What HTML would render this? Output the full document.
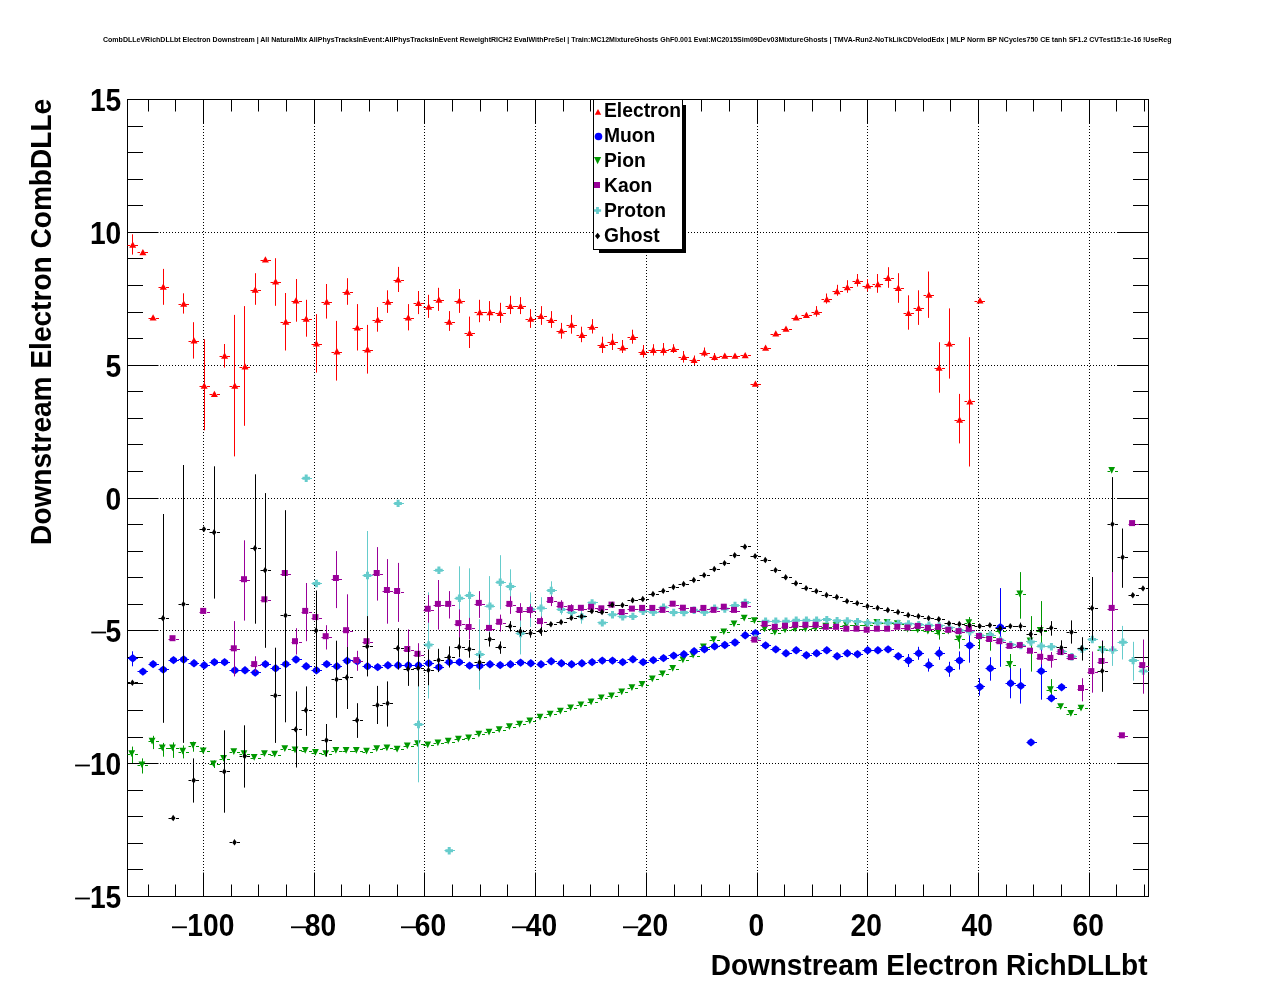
<!DOCTYPE html><html><head><meta charset="utf-8"><style>html,body{margin:0;padding:0;background:#fff;overflow:hidden;width:1276px;height:996px;}svg{display:block;will-change:transform;}text{font-family:"Liberation Sans",sans-serif;font-weight:bold;}</style></head><body>
<svg width="1276" height="996" viewBox="0 0 1276 996">
<rect x="0" y="0" width="1276" height="996" fill="#fff"/>
<text x="103" y="42" font-size="7" textLength="1068.5" lengthAdjust="spacingAndGlyphs">CombDLLeVRichDLLbt Electron Downstream | All NaturalMix AllPhysTracksInEvent:AllPhysTracksInEvent ReweightRICH2 EvalWithPreSel | Train:MC12MixtureGhosts GhF0.001 Eval:MC2015Sim09Dev03MixtureGhosts | TMVA-Run2-NoTkLikCDVelodEdx | MLP Norm BP NCycles750 CE tanh SF1.2 CVTest15:1e-16 !UseReg</text>
<path d="M203.5 99V896.5M314.5 99V896.5M424.5 99V896.5M535.5 99V896.5M646.5 99V896.5M757.5 99V896.5M867.5 99V896.5M978.5 99V896.5M1089.5 99V896.5M127 896.5H1148.5M127 763.5H1148.5M127 630.5H1148.5M127 498.5H1148.5M127 365.5H1148.5M127 232.5H1148.5M127 99.5H1148.5" stroke="#000" stroke-width="1" stroke-dasharray="1 2" fill="none"/>
<path d="M148.5 896.5v-12M148.5 99.5v12M175.5 896.5v-12M175.5 99.5v12M203.5 896.5v-24M203.5 99.5v24M231.5 896.5v-12M231.5 99.5v12M258.5 896.5v-12M258.5 99.5v12M286.5 896.5v-12M286.5 99.5v12M314.5 896.5v-24M314.5 99.5v24M341.5 896.5v-12M341.5 99.5v12M369.5 896.5v-12M369.5 99.5v12M397.5 896.5v-12M397.5 99.5v12M424.5 896.5v-24M424.5 99.5v24M452.5 896.5v-12M452.5 99.5v12M480.5 896.5v-12M480.5 99.5v12M507.5 896.5v-12M507.5 99.5v12M535.5 896.5v-24M535.5 99.5v24M563.5 896.5v-12M563.5 99.5v12M590.5 896.5v-12M590.5 99.5v12M618.5 896.5v-12M618.5 99.5v12M646.5 896.5v-24M646.5 99.5v24M674.5 896.5v-12M674.5 99.5v12M701.5 896.5v-12M701.5 99.5v12M729.5 896.5v-12M729.5 99.5v12M757.5 896.5v-24M757.5 99.5v24M784.5 896.5v-12M784.5 99.5v12M812.5 896.5v-12M812.5 99.5v12M840.5 896.5v-12M840.5 99.5v12M867.5 896.5v-24M867.5 99.5v24M895.5 896.5v-12M895.5 99.5v12M923.5 896.5v-12M923.5 99.5v12M950.5 896.5v-12M950.5 99.5v12M978.5 896.5v-24M978.5 99.5v24M1006.5 896.5v-12M1006.5 99.5v12M1033.5 896.5v-12M1033.5 99.5v12M1061.5 896.5v-12M1061.5 99.5v12M1089.5 896.5v-24M1089.5 99.5v24M1116.5 896.5v-12M1116.5 99.5v12M1144.5 896.5v-12M1144.5 99.5v12M127.5 896.5h31M1148.5 896.5h-31M127.5 869.5h15.5M1148.5 869.5h-15.5M127.5 843.5h15.5M1148.5 843.5h-15.5M127.5 816.5h15.5M1148.5 816.5h-15.5M127.5 790.5h15.5M1148.5 790.5h-15.5M127.5 763.5h31M1148.5 763.5h-31M127.5 737.5h15.5M1148.5 737.5h-15.5M127.5 710.5h15.5M1148.5 710.5h-15.5M127.5 683.5h15.5M1148.5 683.5h-15.5M127.5 657.5h15.5M1148.5 657.5h-15.5M127.5 630.5h31M1148.5 630.5h-31M127.5 604.5h15.5M1148.5 604.5h-15.5M127.5 577.5h15.5M1148.5 577.5h-15.5M127.5 551.5h15.5M1148.5 551.5h-15.5M127.5 524.5h15.5M1148.5 524.5h-15.5M127.5 498.5h31M1148.5 498.5h-31M127.5 471.5h15.5M1148.5 471.5h-15.5M127.5 444.5h15.5M1148.5 444.5h-15.5M127.5 418.5h15.5M1148.5 418.5h-15.5M127.5 391.5h15.5M1148.5 391.5h-15.5M127.5 365.5h31M1148.5 365.5h-31M127.5 338.5h15.5M1148.5 338.5h-15.5M127.5 312.5h15.5M1148.5 312.5h-15.5M127.5 285.5h15.5M1148.5 285.5h-15.5M127.5 258.5h15.5M1148.5 258.5h-15.5M127.5 232.5h31M1148.5 232.5h-31M127.5 205.5h15.5M1148.5 205.5h-15.5M127.5 179.5h15.5M1148.5 179.5h-15.5M127.5 152.5h15.5M1148.5 152.5h-15.5M127.5 126.5h15.5M1148.5 126.5h-15.5M127.5 99.5h31M1148.5 99.5h-31" stroke="#000" stroke-width="1" fill="none"/>
<rect x="127.5" y="99.5" width="1021.0" height="797.0" stroke="#000" stroke-width="1" fill="none"/>
<rect x="172.0" y="926.4" width="14.9" height="1.8" fill="#000"/>
<text transform="translate(210.9,936.2) scale(0.925,1)" font-size="30.5" text-anchor="middle">100</text>
<rect x="291.0" y="926.4" width="15.3" height="1.8" fill="#000"/>
<text transform="translate(320.4,936.2) scale(0.925,1)" font-size="30.5" text-anchor="middle">80</text>
<rect x="401.0" y="926.4" width="15.3" height="1.8" fill="#000"/>
<text transform="translate(430.4,936.2) scale(0.925,1)" font-size="30.5" text-anchor="middle">60</text>
<rect x="512.0" y="926.4" width="15.3" height="1.8" fill="#000"/>
<text transform="translate(541.5,936.2) scale(0.925,1)" font-size="30.5" text-anchor="middle">40</text>
<rect x="623.0" y="926.4" width="15.3" height="1.8" fill="#000"/>
<text transform="translate(652.5,936.2) scale(0.925,1)" font-size="30.5" text-anchor="middle">20</text>
<text transform="translate(756.3,936.2) scale(0.925,1)" font-size="30.5" text-anchor="middle">0</text>
<text transform="translate(866.3,936.2) scale(0.925,1)" font-size="30.5" text-anchor="middle">20</text>
<text transform="translate(977.3,936.2) scale(0.925,1)" font-size="30.5" text-anchor="middle">40</text>
<text transform="translate(1088.3,936.2) scale(0.925,1)" font-size="30.5" text-anchor="middle">60</text>
<text transform="translate(121.3,907.7) scale(0.925,1)" font-size="30.5" text-anchor="end">15</text>
<rect x="75.1" y="897.6" width="14.8" height="1.8" fill="#000"/>
<text transform="translate(121.3,774.7) scale(0.925,1)" font-size="30.5" text-anchor="end">10</text>
<rect x="75.1" y="764.6" width="14.8" height="1.8" fill="#000"/>
<text transform="translate(121.3,641.7) scale(0.925,1)" font-size="30.5" text-anchor="end">5</text>
<rect x="91.3" y="631.6" width="14.8" height="1.8" fill="#000"/>
<text transform="translate(121.3,509.7) scale(0.925,1)" font-size="30.5" text-anchor="end">0</text>
<text transform="translate(121.3,376.7) scale(0.925,1)" font-size="30.5" text-anchor="end">5</text>
<text transform="translate(121.3,243.7) scale(0.925,1)" font-size="30.5" text-anchor="end">10</text>
<text transform="translate(121.3,110.7) scale(0.925,1)" font-size="30.5" text-anchor="end">15</text>
<text transform="translate(1147.5,974.6) scale(0.933,1)" font-size="30" text-anchor="end">Downstream Electron RichDLLbt</text>
<text transform="translate(51.2,98.8) rotate(-90) scale(0.936,1)" font-size="30" text-anchor="end">Downstream Electron CombDLLe</text>
<path d="M127.5 754.5H130.0M135.0 754.5H138.0M132.5 746.6V763.0M137.5 765.5H140.0M145.0 765.5H148.0M142.5 758.4V773.5M148.5 741.5H151.0M156.0 741.5H159.0M153.5 735.8V749.1M158.5 748.5H161.0M166.0 748.5H169.0M163.5 742.9V756.7M168.5 748.5H171.0M176.0 748.5H179.0M173.5 742.4V757.9M178.5 752.5H181.0M186.0 752.5H189.0M183.5 745.4V758.4M188.5 746.5H191.0M196.0 746.5H199.0M193.5 741.6V751.7M199.5 751.5H202.0M207.0 751.5H210.0M209.5 764.5H212.0M217.0 764.5H220.0M214.5 760.4V768.0M219.5 759.5H222.0M227.0 759.5H230.0M229.5 752.5H232.0M237.0 752.5H240.0M239.5 754.5H242.0M247.0 754.5H250.0M250.5 758.5H253.0M258.0 758.5H261.0M260.5 754.5H263.0M268.0 754.5H271.0M270.5 755.5H273.0M278.0 755.5H281.0M280.5 749.5H283.0M288.0 749.5H291.0M291.5 750.5H294.0M299.0 750.5H302.0M301.5 751.5H304.0M309.0 751.5H312.0M311.5 753.5H314.0M319.0 753.5H322.0M321.5 754.5H324.0M329.0 754.5H332.0M331.5 751.5H334.0M339.0 751.5H342.0M342.5 751.5H345.0M350.0 751.5H353.0M352.5 751.5H355.0M360.0 751.5H363.0M362.5 752.5H365.0M370.0 752.5H373.0M372.5 749.5H375.0M380.0 749.5H383.0M382.5 748.5H385.0M390.0 748.5H393.0M393.5 749.5H396.0M401.0 749.5H404.0M403.5 746.5H406.0M411.0 746.5H414.0M413.5 744.5H416.0M421.0 744.5H424.0M423.5 745.5H426.0M431.0 745.5H434.0M433.5 743.5H436.0M441.0 743.5H444.0M444.5 742.5H447.0M452.0 742.5H455.0M454.5 739.5H457.0M462.0 739.5H465.0M464.5 738.5H467.0M472.0 738.5H475.0M474.5 734.5H477.0M482.0 734.5H485.0M484.5 732.5H487.0M492.0 732.5H495.0M495.5 730.5H498.0M503.0 730.5H506.0M505.5 727.5H508.0M513.0 727.5H516.0M515.5 724.5H518.0M523.0 724.5H526.0M525.5 721.5H528.0M533.0 721.5H536.0M536.5 717.5H539.0M544.0 717.5H547.0M546.5 714.5H549.0M554.0 714.5H557.0M556.5 711.5H559.0M564.0 711.5H567.0M566.5 708.5H569.0M574.0 708.5H577.0M576.5 705.5H579.0M584.0 705.5H587.0M587.5 702.5H590.0M595.0 702.5H598.0M597.5 698.5H600.0M605.0 698.5H608.0M607.5 696.5H610.0M615.0 696.5H618.0M617.5 692.5H620.0M625.0 692.5H628.0M627.5 688.5H630.0M635.0 688.5H638.0M638.5 685.5H641.0M646.0 685.5H649.0M648.5 679.5H651.0M656.0 679.5H659.0M658.5 674.5H661.0M666.0 674.5H669.0M668.5 669.5H671.0M676.0 669.5H679.0M678.5 660.5H681.0M686.0 660.5H689.0M689.5 656.5H692.0M697.0 656.5H700.0M699.5 647.5H702.0M707.0 647.5H710.0M709.5 640.5H712.0M717.0 640.5H720.0M719.5 632.5H722.0M727.0 632.5H730.0M729.5 624.5H732.0M737.0 624.5H740.0M740.5 618.5H743.0M748.0 618.5H751.0M750.5 621.5H753.0M758.0 621.5H761.0M760.5 629.5H763.0M768.0 629.5H771.0M770.5 633.5H773.0M778.0 633.5H781.0M781.5 630.5H784.0M789.0 630.5H792.0M791.5 629.5H794.0M799.0 629.5H802.0M801.5 629.5H804.0M809.0 629.5H812.0M811.5 628.5H814.0M819.0 628.5H822.0M821.5 627.5H824.0M829.0 627.5H832.0M832.5 626.5H835.0M840.0 626.5H843.0M842.5 625.5H845.0M850.0 625.5H853.0M852.5 625.5H855.0M860.0 625.5H863.0M862.5 625.5H865.0M870.0 625.5H873.0M872.5 623.5H875.0M880.0 623.5H883.0M883.5 623.5H886.0M891.0 623.5H894.0M893.5 624.5H896.0M901.0 624.5H904.0M903.5 630.5H906.0M911.0 630.5H914.0M913.5 630.5H916.0M921.0 630.5H924.0M923.5 631.5H926.0M931.0 631.5H934.0M934.5 633.5H937.0M942.0 633.5H945.0M939.5 626.6V639.6M944.5 631.5H947.0M952.0 631.5H955.0M954.5 639.5H957.0M962.0 639.5H965.0M959.5 633.7V648.7M964.5 623.5H967.0M972.0 623.5H975.0M969.5 617.0V629.8M974.5 637.5H977.0M982.0 637.5H985.0M979.5 633.1V649.4M985.5 637.5H988.0M993.0 637.5H996.0M990.5 633.1V650.7M995.5 631.5H998.0M1003.0 631.5H1006.0M1000.5 626.6V635.7M1005.5 665.5H1008.0M1013.0 665.5H1016.0M1010.5 654.0V673.5M1015.5 594.5H1018.0M1023.0 594.5H1026.0M1020.5 572.1V618.7M1026.5 641.5H1029.0M1034.0 641.5H1037.0M1031.5 616.1V671.6M1036.5 631.5H1039.0M1044.0 631.5H1047.0M1041.5 601.1V659.2M1046.5 690.5H1049.0M1054.0 690.5H1057.0M1051.5 679.1V700.5M1056.5 707.5H1059.0M1064.0 707.5H1067.0M1066.5 714.5H1069.0M1074.0 714.5H1077.0M1077.5 708.5H1080.0M1085.0 708.5H1088.0M1097.5 650.5H1100.0M1105.0 650.5H1108.0M1107.5 471.5H1110.0M1115.0 471.5H1118.0" stroke="#009900" stroke-width="1" fill="none"/>
<path d="M128.3 750.3H135.1L131.7 757.0Z" fill="#009900"/>
<path d="M138.5 761.4H145.3L141.9 768.1Z" fill="#009900"/>
<path d="M148.7 737.8H155.5L152.1 744.5Z" fill="#009900"/>
<path d="M158.9 744.5H165.7L162.3 751.2Z" fill="#009900"/>
<path d="M169.1 744.5H175.9L172.5 751.2Z" fill="#009900"/>
<path d="M179.3 747.8H186.1L182.7 754.5Z" fill="#009900"/>
<path d="M189.6 742.0H196.4L193.0 748.7Z" fill="#009900"/>
<path d="M199.8 747.6H206.6L203.2 754.3Z" fill="#009900"/>
<path d="M210.0 760.4H216.8L213.4 767.1Z" fill="#009900"/>
<path d="M220.2 755.1H227.0L223.6 761.8Z" fill="#009900"/>
<path d="M230.4 748.3H237.2L233.8 755.0Z" fill="#009900"/>
<path d="M240.6 750.3H247.4L244.0 757.0Z" fill="#009900"/>
<path d="M250.8 754.1H257.6L254.2 760.8Z" fill="#009900"/>
<path d="M261.0 750.3H267.8L264.4 757.0Z" fill="#009900"/>
<path d="M271.2 750.8H278.0L274.6 757.5Z" fill="#009900"/>
<path d="M281.4 745.3H288.2L284.8 752.0Z" fill="#009900"/>
<path d="M291.6 746.5H298.4L295.0 753.2Z" fill="#009900"/>
<path d="M301.8 747.1H308.6L305.2 753.8Z" fill="#009900"/>
<path d="M312.0 749.1H318.8L315.4 755.8Z" fill="#009900"/>
<path d="M322.3 750.3H329.1L325.7 757.0Z" fill="#009900"/>
<path d="M332.5 747.1H339.3L335.9 753.8Z" fill="#009900"/>
<path d="M342.7 747.1H349.5L346.1 753.8Z" fill="#009900"/>
<path d="M352.9 747.1H359.7L356.3 753.8Z" fill="#009900"/>
<path d="M363.1 747.8H369.9L366.5 754.5Z" fill="#009900"/>
<path d="M373.3 745.3H380.1L376.7 752.0Z" fill="#009900"/>
<path d="M383.5 744.5H390.3L386.9 751.2Z" fill="#009900"/>
<path d="M393.7 745.8H400.5L397.1 752.5Z" fill="#009900"/>
<path d="M403.9 742.5H410.7L407.3 749.2Z" fill="#009900"/>
<path d="M414.1 740.3H420.9L417.5 747.0Z" fill="#009900"/>
<path d="M424.3 741.5H431.1L427.7 748.2Z" fill="#009900"/>
<path d="M434.5 739.6H441.3L437.9 746.3Z" fill="#009900"/>
<path d="M444.8 737.8H451.6L448.2 744.5Z" fill="#009900"/>
<path d="M455.0 735.8H461.8L458.4 742.5Z" fill="#009900"/>
<path d="M465.2 734.5H472.0L468.6 741.2Z" fill="#009900"/>
<path d="M475.4 730.8H482.2L478.8 737.5Z" fill="#009900"/>
<path d="M485.6 728.8H492.4L489.0 735.5Z" fill="#009900"/>
<path d="M495.8 726.3H502.6L499.2 733.0Z" fill="#009900"/>
<path d="M506.0 723.2H512.8L509.4 729.9Z" fill="#009900"/>
<path d="M516.2 720.7H523.0L519.6 727.4Z" fill="#009900"/>
<path d="M526.4 717.5H533.2L529.8 724.2Z" fill="#009900"/>
<path d="M536.6 713.7H543.4L540.0 720.4Z" fill="#009900"/>
<path d="M546.8 710.7H553.6L550.2 717.4Z" fill="#009900"/>
<path d="M557.0 707.7H563.8L560.4 714.4Z" fill="#009900"/>
<path d="M567.2 704.4H574.0L570.6 711.1Z" fill="#009900"/>
<path d="M577.5 701.4H584.3L580.9 708.1Z" fill="#009900"/>
<path d="M587.7 698.6H594.5L591.1 705.3Z" fill="#009900"/>
<path d="M597.9 694.4H604.7L601.3 701.1Z" fill="#009900"/>
<path d="M608.1 692.6H614.9L611.5 699.3Z" fill="#009900"/>
<path d="M618.3 688.6H625.1L621.7 695.3Z" fill="#009900"/>
<path d="M628.5 684.3H635.3L631.9 691.0Z" fill="#009900"/>
<path d="M638.7 681.1H645.5L642.1 687.8Z" fill="#009900"/>
<path d="M648.9 675.6H655.7L652.3 682.3Z" fill="#009900"/>
<path d="M659.1 670.5H665.9L662.5 677.2Z" fill="#009900"/>
<path d="M669.3 665.0H676.1L672.7 671.7Z" fill="#009900"/>
<path d="M679.5 656.5H686.3L682.9 663.2Z" fill="#009900"/>
<path d="M689.7 651.9H696.5L693.1 658.6Z" fill="#009900"/>
<path d="M700.0 643.5H706.8L703.4 650.2Z" fill="#009900"/>
<path d="M710.2 636.3H717.0L713.6 643.0Z" fill="#009900"/>
<path d="M720.4 628.4H727.2L723.8 635.1Z" fill="#009900"/>
<path d="M730.6 620.6H737.4L734.0 627.3Z" fill="#009900"/>
<path d="M740.8 614.7H747.6L744.2 621.4Z" fill="#009900"/>
<path d="M751.0 617.2H757.8L754.4 623.9Z" fill="#009900"/>
<path d="M761.2 625.6H768.0L764.6 632.3Z" fill="#009900"/>
<path d="M771.4 628.9H778.2L774.8 635.6Z" fill="#009900"/>
<path d="M781.6 626.6H788.4L785.0 633.3Z" fill="#009900"/>
<path d="M791.8 625.6H798.6L795.2 632.3Z" fill="#009900"/>
<path d="M802.0 625.6H808.8L805.4 632.3Z" fill="#009900"/>
<path d="M812.2 624.7H819.0L815.6 631.4Z" fill="#009900"/>
<path d="M822.4 622.8H829.2L825.8 629.5Z" fill="#009900"/>
<path d="M832.7 621.9H839.5L836.1 628.6Z" fill="#009900"/>
<path d="M842.9 621.4H849.7L846.3 628.1Z" fill="#009900"/>
<path d="M853.1 620.9H859.9L856.5 627.6Z" fill="#009900"/>
<path d="M863.3 621.5H870.1L866.7 628.2Z" fill="#009900"/>
<path d="M873.5 618.9H880.3L876.9 625.6Z" fill="#009900"/>
<path d="M883.7 618.9H890.5L887.1 625.6Z" fill="#009900"/>
<path d="M893.9 620.2H900.7L897.3 626.9Z" fill="#009900"/>
<path d="M904.1 625.8H910.9L907.5 632.5Z" fill="#009900"/>
<path d="M914.3 626.5H921.1L917.7 633.2Z" fill="#009900"/>
<path d="M924.5 627.8H931.3L927.9 634.5Z" fill="#009900"/>
<path d="M934.7 629.1H941.5L938.1 635.8Z" fill="#009900"/>
<path d="M944.9 627.8H951.7L948.3 634.5Z" fill="#009900"/>
<path d="M955.2 635.6H962.0L958.6 642.3Z" fill="#009900"/>
<path d="M965.4 619.3H972.2L968.8 626.0Z" fill="#009900"/>
<path d="M975.6 633.6H982.4L979.0 640.3Z" fill="#009900"/>
<path d="M985.8 633.0H992.6L989.2 639.7Z" fill="#009900"/>
<path d="M996.0 627.8H1002.8L999.4 634.5Z" fill="#009900"/>
<path d="M1006.2 661.1H1013.0L1009.6 667.8Z" fill="#009900"/>
<path d="M1016.4 590.6H1023.2L1019.8 597.3Z" fill="#009900"/>
<path d="M1026.6 637.6H1033.4L1030.0 644.3Z" fill="#009900"/>
<path d="M1036.8 626.9H1043.6L1040.2 633.6Z" fill="#009900"/>
<path d="M1047.0 686.2H1053.8L1050.4 692.9Z" fill="#009900"/>
<path d="M1057.2 703.2H1064.0L1060.6 709.9Z" fill="#009900"/>
<path d="M1067.4 710.0H1074.2L1070.8 716.7Z" fill="#009900"/>
<path d="M1077.6 704.7H1084.4L1081.0 711.4Z" fill="#009900"/>
<path d="M1098.1 646.2H1104.9L1101.5 652.9Z" fill="#009900"/>
<path d="M1108.3 467.0H1115.1L1111.7 473.7Z" fill="#009900"/>
<path d="M127.5 658.5H130.0M135.0 658.5H138.0M132.5 651.3V666.3M137.5 671.5H140.0M145.0 671.5H148.0M148.5 664.5H151.0M156.0 664.5H159.0M158.5 669.5H161.0M166.0 669.5H169.0M168.5 660.5H171.0M176.0 660.5H179.0M178.5 659.5H181.0M186.0 659.5H189.0M188.5 663.5H191.0M196.0 663.5H199.0M199.5 665.5H202.0M207.0 665.5H210.0M209.5 662.5H212.0M217.0 662.5H220.0M219.5 662.5H222.0M227.0 662.5H230.0M229.5 670.5H232.0M237.0 670.5H240.0M239.5 670.5H242.0M247.0 670.5H250.0M250.5 672.5H253.0M258.0 672.5H261.0M260.5 664.5H263.0M268.0 664.5H271.0M270.5 668.5H273.0M278.0 668.5H281.0M280.5 664.5H283.0M288.0 664.5H291.0M291.5 659.5H294.0M299.0 659.5H302.0M301.5 666.5H304.0M309.0 666.5H312.0M311.5 670.5H314.0M319.0 670.5H322.0M321.5 664.5H324.0M329.0 664.5H332.0M331.5 666.5H334.0M339.0 666.5H342.0M342.5 660.5H345.0M350.0 660.5H353.0M352.5 661.5H355.0M360.0 661.5H363.0M362.5 666.5H365.0M370.0 666.5H373.0M372.5 667.5H375.0M380.0 667.5H383.0M382.5 665.5H385.0M390.0 665.5H393.0M393.5 665.5H396.0M401.0 665.5H404.0M403.5 665.5H406.0M411.0 665.5H414.0M413.5 665.5H416.0M421.0 665.5H424.0M423.5 663.5H426.0M431.0 663.5H434.0M433.5 667.5H436.0M441.0 667.5H444.0M444.5 662.5H447.0M452.0 662.5H455.0M454.5 662.5H457.0M462.0 662.5H465.0M464.5 665.5H467.0M472.0 665.5H475.0M474.5 665.5H477.0M482.0 665.5H485.0M484.5 664.5H487.0M492.0 664.5H495.0M495.5 665.5H498.0M503.0 665.5H506.0M505.5 664.5H508.0M513.0 664.5H516.0M515.5 662.5H518.0M523.0 662.5H526.0M525.5 663.5H528.0M533.0 663.5H536.0M536.5 664.5H539.0M544.0 664.5H547.0M546.5 661.5H549.0M554.0 661.5H557.0M556.5 663.5H559.0M564.0 663.5H567.0M566.5 664.5H569.0M574.0 664.5H577.0M576.5 663.5H579.0M584.0 663.5H587.0M587.5 662.5H590.0M595.0 662.5H598.0M597.5 660.5H600.0M605.0 660.5H608.0M607.5 660.5H610.0M615.0 660.5H618.0M617.5 662.5H620.0M625.0 662.5H628.0M627.5 659.5H630.0M635.0 659.5H638.0M638.5 662.5H641.0M646.0 662.5H649.0M648.5 660.5H651.0M656.0 660.5H659.0M658.5 658.5H661.0M666.0 658.5H669.0M668.5 655.5H671.0M676.0 655.5H679.0M678.5 654.5H681.0M686.0 654.5H689.0M689.5 651.5H692.0M697.0 651.5H700.0M699.5 649.5H702.0M707.0 649.5H710.0M709.5 646.5H712.0M717.0 646.5H720.0M719.5 645.5H722.0M727.0 645.5H730.0M729.5 642.5H732.0M737.0 642.5H740.0M740.5 635.5H743.0M748.0 635.5H751.0M750.5 633.5H753.0M758.0 633.5H761.0M760.5 645.5H763.0M768.0 645.5H771.0M770.5 649.5H773.0M778.0 649.5H781.0M781.5 653.5H784.0M789.0 653.5H792.0M791.5 650.5H794.0M799.0 650.5H802.0M801.5 655.5H804.0M809.0 655.5H812.0M811.5 653.5H814.0M819.0 653.5H822.0M821.5 650.5H824.0M829.0 650.5H832.0M832.5 656.5H835.0M840.0 656.5H843.0M842.5 653.5H845.0M850.0 653.5H853.0M852.5 654.5H855.0M860.0 654.5H863.0M862.5 650.5H865.0M870.0 650.5H873.0M872.5 650.5H875.0M880.0 650.5H883.0M883.5 649.5H886.0M891.0 649.5H894.0M893.5 656.5H896.0M901.0 656.5H904.0M903.5 660.5H906.0M911.0 660.5H914.0M908.5 654.0V667.0M913.5 653.5H916.0M921.0 653.5H924.0M918.5 646.8V659.8M923.5 665.5H926.0M931.0 665.5H934.0M928.5 658.5V671.6M934.5 653.5H937.0M942.0 653.5H945.0M939.5 646.8V659.8M944.5 669.5H947.0M952.0 669.5H955.0M949.5 661.8V676.8M954.5 660.5H957.0M962.0 660.5H965.0M959.5 651.4V669.6M964.5 645.5H967.0M972.0 645.5H975.0M969.5 627.9V662.7M974.5 686.5H977.0M982.0 686.5H985.0M979.5 678.1V695.7M985.5 668.5H988.0M993.0 668.5H996.0M990.5 657.2V680.7M995.5 627.5H998.0M1003.0 627.5H1006.0M1000.5 588.1V666.8M1005.5 683.5H1008.0M1013.0 683.5H1016.0M1010.5 668.3V698.3M1015.5 685.5H1018.0M1023.0 685.5H1026.0M1020.5 668.3V703.6M1026.5 742.5H1029.0M1034.0 742.5H1037.0M1036.5 671.5H1039.0M1044.0 671.5H1047.0M1041.5 644.8V699.7M1046.5 698.5H1049.0M1054.0 698.5H1057.0M1056.5 687.5H1059.0M1064.0 687.5H1067.0" stroke="#0000ff" stroke-width="1" fill="none"/>
<path d="M132.7 654.1L136.3 656.9V659.7L132.7 662.5L129.1 659.7V656.9Z" fill="#0000ff"/>
<path d="M142.9 667.4L146.5 670.2V673.0L142.9 675.8L139.3 673.0V670.2Z" fill="#0000ff"/>
<path d="M153.1 659.9L156.7 662.7V665.5L153.1 668.3L149.5 665.5V662.7Z" fill="#0000ff"/>
<path d="M163.3 665.4L166.9 668.2V671.0L163.3 673.8L159.7 671.0V668.2Z" fill="#0000ff"/>
<path d="M173.5 655.9L177.1 658.7V661.5L173.5 664.3L169.9 661.5V658.7Z" fill="#0000ff"/>
<path d="M183.7 655.3L187.3 658.1V660.9L183.7 663.7L180.1 660.9V658.1Z" fill="#0000ff"/>
<path d="M194.0 659.1L197.6 661.9V664.7L194.0 667.5L190.4 664.7V661.9Z" fill="#0000ff"/>
<path d="M204.2 661.1L207.8 663.9V666.7L204.2 669.5L200.6 666.7V663.9Z" fill="#0000ff"/>
<path d="M214.4 657.9L218.0 660.7V663.5L214.4 666.3L210.8 663.5V660.7Z" fill="#0000ff"/>
<path d="M224.6 657.9L228.2 660.7V663.5L224.6 666.3L221.0 663.5V660.7Z" fill="#0000ff"/>
<path d="M234.8 666.1L238.4 668.9V671.7L234.8 674.5L231.2 671.7V668.9Z" fill="#0000ff"/>
<path d="M245.0 666.1L248.6 668.9V671.7L245.0 674.5L241.4 671.7V668.9Z" fill="#0000ff"/>
<path d="M255.2 668.4L258.8 671.2V674.0L255.2 676.8L251.6 674.0V671.2Z" fill="#0000ff"/>
<path d="M265.4 659.9L269.0 662.7V665.5L265.4 668.3L261.8 665.5V662.7Z" fill="#0000ff"/>
<path d="M275.6 664.1L279.2 666.9V669.7L275.6 672.5L272.0 669.7V666.9Z" fill="#0000ff"/>
<path d="M285.8 659.9L289.4 662.7V665.5L285.8 668.3L282.2 665.5V662.7Z" fill="#0000ff"/>
<path d="M296.0 655.3L299.6 658.1V660.9L296.0 663.7L292.4 660.9V658.1Z" fill="#0000ff"/>
<path d="M306.2 662.1L309.8 664.9V667.7L306.2 670.5L302.6 667.7V664.9Z" fill="#0000ff"/>
<path d="M316.4 666.1L320.0 668.9V671.7L316.4 674.5L312.8 671.7V668.9Z" fill="#0000ff"/>
<path d="M326.7 659.9L330.3 662.7V665.5L326.7 668.3L323.1 665.5V662.7Z" fill="#0000ff"/>
<path d="M336.9 662.1L340.5 664.9V667.7L336.9 670.5L333.3 667.7V664.9Z" fill="#0000ff"/>
<path d="M347.1 656.6L350.7 659.4V662.2L347.1 665.0L343.5 662.2V659.4Z" fill="#0000ff"/>
<path d="M357.3 657.1L360.9 659.9V662.7L357.3 665.5L353.7 662.7V659.9Z" fill="#0000ff"/>
<path d="M367.5 662.1L371.1 664.9V667.7L367.5 670.5L363.9 667.7V664.9Z" fill="#0000ff"/>
<path d="M377.7 662.9L381.3 665.7V668.5L377.7 671.3L374.1 668.5V665.7Z" fill="#0000ff"/>
<path d="M387.9 661.1L391.5 663.9V666.7L387.9 669.5L384.3 666.7V663.9Z" fill="#0000ff"/>
<path d="M398.1 661.1L401.7 663.9V666.7L398.1 669.5L394.5 666.7V663.9Z" fill="#0000ff"/>
<path d="M408.3 661.1L411.9 663.9V666.7L408.3 669.5L404.7 666.7V663.9Z" fill="#0000ff"/>
<path d="M418.5 661.1L422.1 663.9V666.7L418.5 669.5L414.9 666.7V663.9Z" fill="#0000ff"/>
<path d="M428.7 659.1L432.3 661.9V664.7L428.7 667.5L425.1 664.7V661.9Z" fill="#0000ff"/>
<path d="M438.9 662.9L442.5 665.7V668.5L438.9 671.3L435.3 668.5V665.7Z" fill="#0000ff"/>
<path d="M449.2 657.9L452.8 660.7V663.5L449.2 666.3L445.6 663.5V660.7Z" fill="#0000ff"/>
<path d="M459.4 657.9L463.0 660.7V663.5L459.4 666.3L455.8 663.5V660.7Z" fill="#0000ff"/>
<path d="M469.6 661.4L473.2 664.2V667.0L469.6 669.8L466.0 667.0V664.2Z" fill="#0000ff"/>
<path d="M479.8 661.7L483.4 664.5V667.3L479.8 670.1L476.2 667.3V664.5Z" fill="#0000ff"/>
<path d="M490.0 660.1L493.6 662.9V665.7L490.0 668.5L486.4 665.7V662.9Z" fill="#0000ff"/>
<path d="M500.2 660.9L503.8 663.7V666.5L500.2 669.3L496.6 666.5V663.7Z" fill="#0000ff"/>
<path d="M510.4 660.1L514.0 662.9V665.7L510.4 668.5L506.8 665.7V662.9Z" fill="#0000ff"/>
<path d="M520.6 658.4L524.2 661.2V664.0L520.6 666.8L517.0 664.0V661.2Z" fill="#0000ff"/>
<path d="M530.8 659.1L534.4 661.9V664.7L530.8 667.5L527.2 664.7V661.9Z" fill="#0000ff"/>
<path d="M541.0 660.1L544.6 662.9V665.7L541.0 668.5L537.4 665.7V662.9Z" fill="#0000ff"/>
<path d="M551.2 657.1L554.8 659.9V662.7L551.2 665.5L547.6 662.7V659.9Z" fill="#0000ff"/>
<path d="M561.4 659.1L565.0 661.9V664.7L561.4 667.5L557.8 664.7V661.9Z" fill="#0000ff"/>
<path d="M571.6 660.1L575.2 662.9V665.7L571.6 668.5L568.0 665.7V662.9Z" fill="#0000ff"/>
<path d="M581.9 659.1L585.5 661.9V664.7L581.9 667.5L578.3 664.7V661.9Z" fill="#0000ff"/>
<path d="M592.1 657.9L595.7 660.7V663.5L592.1 666.3L588.5 663.5V660.7Z" fill="#0000ff"/>
<path d="M602.3 656.4L605.9 659.2V662.0L602.3 664.8L598.7 662.0V659.2Z" fill="#0000ff"/>
<path d="M612.5 656.4L616.1 659.2V662.0L612.5 664.8L608.9 662.0V659.2Z" fill="#0000ff"/>
<path d="M622.7 657.9L626.3 660.7V663.5L622.7 666.3L619.1 663.5V660.7Z" fill="#0000ff"/>
<path d="M632.9 655.1L636.5 657.9V660.7L632.9 663.5L629.3 660.7V657.9Z" fill="#0000ff"/>
<path d="M643.1 657.9L646.7 660.7V663.5L643.1 666.3L639.5 663.5V660.7Z" fill="#0000ff"/>
<path d="M653.3 655.9L656.9 658.7V661.5L653.3 664.3L649.7 661.5V658.7Z" fill="#0000ff"/>
<path d="M663.5 653.9L667.1 656.7V659.5L663.5 662.3L659.9 659.5V656.7Z" fill="#0000ff"/>
<path d="M673.7 651.4L677.3 654.2V657.0L673.7 659.8L670.1 657.0V654.2Z" fill="#0000ff"/>
<path d="M683.9 650.1L687.5 652.9V655.7L683.9 658.5L680.3 655.7V652.9Z" fill="#0000ff"/>
<path d="M694.1 647.1L697.7 649.9V652.7L694.1 655.5L690.5 652.7V649.9Z" fill="#0000ff"/>
<path d="M704.4 645.1L708.0 647.9V650.7L704.4 653.5L700.8 650.7V647.9Z" fill="#0000ff"/>
<path d="M714.6 642.1L718.2 644.9V647.7L714.6 650.5L711.0 647.7V644.9Z" fill="#0000ff"/>
<path d="M724.8 640.8L728.4 643.6V646.4L724.8 649.2L721.2 646.4V643.6Z" fill="#0000ff"/>
<path d="M735.0 638.3L738.6 641.1V643.9L735.0 646.7L731.4 643.9V641.1Z" fill="#0000ff"/>
<path d="M745.2 631.1L748.8 633.9V636.7L745.2 639.5L741.6 636.7V633.9Z" fill="#0000ff"/>
<path d="M755.4 628.9L759.0 631.7V634.5L755.4 637.3L751.8 634.5V631.7Z" fill="#0000ff"/>
<path d="M765.6 641.2L769.2 644.0V646.8L765.6 649.6L762.0 646.8V644.0Z" fill="#0000ff"/>
<path d="M775.8 645.2L779.4 648.0V650.8L775.8 653.6L772.2 650.8V648.0Z" fill="#0000ff"/>
<path d="M786.0 649.1L789.6 651.9V654.7L786.0 657.5L782.4 654.7V651.9Z" fill="#0000ff"/>
<path d="M796.2 646.1L799.8 648.9V651.7L796.2 654.5L792.6 651.7V648.9Z" fill="#0000ff"/>
<path d="M806.4 651.0L810.0 653.8V656.6L806.4 659.4L802.8 656.6V653.8Z" fill="#0000ff"/>
<path d="M816.6 649.1L820.2 651.9V654.7L816.6 657.5L813.0 654.7V651.9Z" fill="#0000ff"/>
<path d="M826.8 646.1L830.4 648.9V651.7L826.8 654.5L823.2 651.7V648.9Z" fill="#0000ff"/>
<path d="M837.1 652.0L840.7 654.8V657.6L837.1 660.4L833.5 657.6V654.8Z" fill="#0000ff"/>
<path d="M847.3 649.1L850.9 651.9V654.7L847.3 657.5L843.7 654.7V651.9Z" fill="#0000ff"/>
<path d="M857.5 650.0L861.1 652.8V655.6L857.5 658.4L853.9 655.6V652.8Z" fill="#0000ff"/>
<path d="M867.7 646.1L871.3 648.9V651.7L867.7 654.5L864.1 651.7V648.9Z" fill="#0000ff"/>
<path d="M877.9 646.1L881.5 648.9V651.7L877.9 654.5L874.3 651.7V648.9Z" fill="#0000ff"/>
<path d="M888.1 645.2L891.7 648.0V650.8L888.1 653.6L884.5 650.8V648.0Z" fill="#0000ff"/>
<path d="M898.3 652.0L901.9 654.8V657.6L898.3 660.4L894.7 657.6V654.8Z" fill="#0000ff"/>
<path d="M908.5 656.3L912.1 659.1V661.9L908.5 664.7L904.9 661.9V659.1Z" fill="#0000ff"/>
<path d="M918.7 649.1L922.3 651.9V654.7L918.7 657.5L915.1 654.7V651.9Z" fill="#0000ff"/>
<path d="M928.9 660.9L932.5 663.7V666.5L928.9 669.3L925.3 666.5V663.7Z" fill="#0000ff"/>
<path d="M939.1 649.1L942.7 651.9V654.7L939.1 657.5L935.5 654.7V651.9Z" fill="#0000ff"/>
<path d="M949.3 665.0L952.9 667.8V670.6L949.3 673.4L945.7 670.6V667.8Z" fill="#0000ff"/>
<path d="M959.6 656.3L963.2 659.1V661.9L959.6 664.7L956.0 661.9V659.1Z" fill="#0000ff"/>
<path d="M969.8 641.3L973.4 644.1V646.9L969.8 649.7L966.2 646.9V644.1Z" fill="#0000ff"/>
<path d="M980.0 682.7L983.6 685.5V688.3L980.0 691.1L976.4 688.3V685.5Z" fill="#0000ff"/>
<path d="M990.2 664.1L993.8 666.9V669.7L990.2 672.5L986.6 669.7V666.9Z" fill="#0000ff"/>
<path d="M1000.4 623.0L1004.0 625.8V628.6L1000.4 631.4L996.8 628.6V625.8Z" fill="#0000ff"/>
<path d="M1010.6 679.1L1014.2 681.9V684.7L1010.6 687.5L1007.0 684.7V681.9Z" fill="#0000ff"/>
<path d="M1020.8 681.7L1024.4 684.5V687.3L1020.8 690.1L1017.2 687.3V684.5Z" fill="#0000ff"/>
<path d="M1031.0 738.2L1034.6 741.0V743.8L1031.0 746.6L1027.4 743.8V741.0Z" fill="#0000ff"/>
<path d="M1041.2 666.9L1044.8 669.7V672.5L1041.2 675.3L1037.6 672.5V669.7Z" fill="#0000ff"/>
<path d="M1051.4 694.0L1055.0 696.8V699.6L1051.4 702.4L1047.8 699.6V696.8Z" fill="#0000ff"/>
<path d="M1061.6 683.0L1065.2 685.8V688.6L1061.6 691.4L1058.0 688.6V685.8Z" fill="#0000ff"/>
<path d="M301.5 478.5H304.0M309.0 478.5H312.0M311.5 583.5H314.0M319.0 583.5H322.0M362.5 575.5H365.0M370.0 575.5H373.0M367.5 531.0V645.7M393.5 503.5H396.0M401.0 503.5H404.0M413.5 724.5H416.0M421.0 724.5H424.0M418.5 685.1V782.3M423.5 644.5H426.0M431.0 644.5H434.0M428.5 592.3V698.5M433.5 570.5H436.0M441.0 570.5H444.0M444.5 850.5H447.0M452.0 850.5H455.0M454.5 598.5H457.0M462.0 598.5H465.0M459.5 566.3V630.3M464.5 595.5H467.0M472.0 595.5H475.0M469.5 568.3V622.6M474.5 654.5H477.0M482.0 654.5H485.0M479.5 619.2V689.6M484.5 606.5H487.0M492.0 606.5H495.0M489.5 576.1V636.1M495.5 582.5H498.0M503.0 582.5H506.0M500.5 555.2V609.4M505.5 586.5H508.0M513.0 586.5H516.0M510.5 569.3V603.8M515.5 633.5H518.0M523.0 633.5H526.0M520.5 615.3V654.4M525.5 609.5H528.0M533.0 609.5H536.0M530.5 592.4V627.0M536.5 608.5H539.0M544.0 608.5H547.0M541.5 597.2V619.2M546.5 590.5H549.0M554.0 590.5H557.0M551.5 581.3V599.6M556.5 609.5H559.0M564.0 609.5H567.0M561.5 604.8V614.6M566.5 612.5H569.0M574.0 612.5H577.0M576.5 616.5H579.0M584.0 616.5H587.0M581.5 610.0V623.7M587.5 602.5H590.0M595.0 602.5H598.0M597.5 622.5H600.0M605.0 622.5H608.0M607.5 614.5H610.0M615.0 614.5H618.0M617.5 616.5H620.0M625.0 616.5H628.0M627.5 616.5H630.0M635.0 616.5H638.0M638.5 611.5H641.0M646.0 611.5H649.0M648.5 612.5H651.0M656.0 612.5H659.0M658.5 607.5H661.0M666.0 607.5H669.0M668.5 612.5H671.0M676.0 612.5H679.0M678.5 612.5H681.0M686.0 612.5H689.0M689.5 610.5H692.0M697.0 610.5H700.0M699.5 612.5H702.0M707.0 612.5H710.0M709.5 608.5H712.0M717.0 608.5H720.0M719.5 608.5H722.0M727.0 608.5H730.0M729.5 605.5H732.0M737.0 605.5H740.0M740.5 602.5H743.0M748.0 602.5H751.0M750.5 638.5H753.0M758.0 638.5H761.0M760.5 621.5H763.0M768.0 621.5H771.0M770.5 621.5H773.0M778.0 621.5H781.0M781.5 621.5H784.0M789.0 621.5H792.0M791.5 620.5H794.0M799.0 620.5H802.0M801.5 620.5H804.0M809.0 620.5H812.0M811.5 620.5H814.0M819.0 620.5H822.0M821.5 619.5H824.0M829.0 619.5H832.0M832.5 620.5H835.0M840.0 620.5H843.0M842.5 620.5H845.0M850.0 620.5H853.0M852.5 621.5H855.0M860.0 621.5H863.0M862.5 622.5H865.0M870.0 622.5H873.0M872.5 622.5H875.0M880.0 622.5H883.0M883.5 622.5H886.0M891.0 622.5H894.0M893.5 623.5H896.0M901.0 623.5H904.0M903.5 623.5H906.0M911.0 623.5H914.0M913.5 624.5H916.0M921.0 624.5H924.0M923.5 625.5H926.0M931.0 625.5H934.0M934.5 625.5H937.0M942.0 625.5H945.0M944.5 627.5H947.0M952.0 627.5H955.0M954.5 630.5H957.0M962.0 630.5H965.0M964.5 631.5H967.0M972.0 631.5H975.0M974.5 635.5H977.0M982.0 635.5H985.0M985.5 635.5H988.0M993.0 635.5H996.0M995.5 640.5H998.0M1003.0 640.5H1006.0M1005.5 644.5H1008.0M1013.0 644.5H1016.0M1015.5 645.5H1018.0M1023.0 645.5H1026.0M1026.5 641.5H1029.0M1034.0 641.5H1037.0M1036.5 646.5H1039.0M1044.0 646.5H1047.0M1046.5 646.5H1049.0M1054.0 646.5H1057.0M1056.5 651.5H1059.0M1064.0 651.5H1067.0M1066.5 656.5H1069.0M1074.0 656.5H1077.0M1077.5 649.5H1080.0M1085.0 649.5H1088.0M1087.5 639.5H1090.0M1095.0 639.5H1098.0M1097.5 649.5H1100.0M1105.0 649.5H1108.0M1107.5 650.5H1110.0M1115.0 650.5H1118.0M1112.5 641.8V665.9M1117.5 642.5H1120.0M1125.0 642.5H1128.0M1122.5 625.9V659.5M1128.5 660.5H1131.0M1136.0 660.5H1139.0M1133.5 641.8V680.6M1138.5 671.5H1141.0M1146.0 671.5H1149.0" stroke="#66cccc" stroke-width="1" fill="none"/>
<path d="M304.7 474.6h3v2.2h2.3v3h-2.3v2.2h-3v-2.2h-2.3v-3h2.3Z" fill="#66cccc"/>
<path d="M314.9 579.8h3v2.2h2.3v3h-2.3v2.2h-3v-2.2h-2.3v-3h2.3Z" fill="#66cccc"/>
<path d="M366.0 571.8h3v2.2h2.3v3h-2.3v2.2h-3v-2.2h-2.3v-3h2.3Z" fill="#66cccc"/>
<path d="M396.6 499.7h3v2.2h2.3v3h-2.3v2.2h-3v-2.2h-2.3v-3h2.3Z" fill="#66cccc"/>
<path d="M417.0 720.8h3v2.2h2.3v3h-2.3v2.2h-3v-2.2h-2.3v-3h2.3Z" fill="#66cccc"/>
<path d="M427.2 641.3h3v2.2h2.3v3h-2.3v2.2h-3v-2.2h-2.3v-3h2.3Z" fill="#66cccc"/>
<path d="M437.4 566.5h3v2.2h2.3v3h-2.3v2.2h-3v-2.2h-2.3v-3h2.3Z" fill="#66cccc"/>
<path d="M447.7 847.1h3v2.2h2.3v3h-2.3v2.2h-3v-2.2h-2.3v-3h2.3Z" fill="#66cccc"/>
<path d="M457.9 594.6h3v2.2h2.3v3h-2.3v2.2h-3v-2.2h-2.3v-3h2.3Z" fill="#66cccc"/>
<path d="M468.1 591.7h3v2.2h2.3v3h-2.3v2.2h-3v-2.2h-2.3v-3h2.3Z" fill="#66cccc"/>
<path d="M478.3 650.7h3v2.2h2.3v3h-2.3v2.2h-3v-2.2h-2.3v-3h2.3Z" fill="#66cccc"/>
<path d="M488.5 602.4h3v2.2h2.3v3h-2.3v2.2h-3v-2.2h-2.3v-3h2.3Z" fill="#66cccc"/>
<path d="M498.7 578.5h3v2.2h2.3v3h-2.3v2.2h-3v-2.2h-2.3v-3h2.3Z" fill="#66cccc"/>
<path d="M508.9 582.8h3v2.2h2.3v3h-2.3v2.2h-3v-2.2h-2.3v-3h2.3Z" fill="#66cccc"/>
<path d="M519.1 629.8h3v2.2h2.3v3h-2.3v2.2h-3v-2.2h-2.3v-3h2.3Z" fill="#66cccc"/>
<path d="M529.3 605.9h3v2.2h2.3v3h-2.3v2.2h-3v-2.2h-2.3v-3h2.3Z" fill="#66cccc"/>
<path d="M539.5 604.4h3v2.2h2.3v3h-2.3v2.2h-3v-2.2h-2.3v-3h2.3Z" fill="#66cccc"/>
<path d="M549.7 586.8h3v2.2h2.3v3h-2.3v2.2h-3v-2.2h-2.3v-3h2.3Z" fill="#66cccc"/>
<path d="M559.9 605.7h3v2.2h2.3v3h-2.3v2.2h-3v-2.2h-2.3v-3h2.3Z" fill="#66cccc"/>
<path d="M570.1 608.7h3v2.2h2.3v3h-2.3v2.2h-3v-2.2h-2.3v-3h2.3Z" fill="#66cccc"/>
<path d="M580.4 612.9h3v2.2h2.3v3h-2.3v2.2h-3v-2.2h-2.3v-3h2.3Z" fill="#66cccc"/>
<path d="M590.6 599.2h3v2.2h2.3v3h-2.3v2.2h-3v-2.2h-2.3v-3h2.3Z" fill="#66cccc"/>
<path d="M600.8 619.2h3v2.2h2.3v3h-2.3v2.2h-3v-2.2h-2.3v-3h2.3Z" fill="#66cccc"/>
<path d="M611.0 611.1h3v2.2h2.3v3h-2.3v2.2h-3v-2.2h-2.3v-3h2.3Z" fill="#66cccc"/>
<path d="M621.2 613.1h3v2.2h2.3v3h-2.3v2.2h-3v-2.2h-2.3v-3h2.3Z" fill="#66cccc"/>
<path d="M631.4 612.7h3v2.2h2.3v3h-2.3v2.2h-3v-2.2h-2.3v-3h2.3Z" fill="#66cccc"/>
<path d="M641.6 607.5h3v2.2h2.3v3h-2.3v2.2h-3v-2.2h-2.3v-3h2.3Z" fill="#66cccc"/>
<path d="M651.8 608.5h3v2.2h2.3v3h-2.3v2.2h-3v-2.2h-2.3v-3h2.3Z" fill="#66cccc"/>
<path d="M662.0 603.6h3v2.2h2.3v3h-2.3v2.2h-3v-2.2h-2.3v-3h2.3Z" fill="#66cccc"/>
<path d="M672.2 608.8h3v2.2h2.3v3h-2.3v2.2h-3v-2.2h-2.3v-3h2.3Z" fill="#66cccc"/>
<path d="M682.4 608.8h3v2.2h2.3v3h-2.3v2.2h-3v-2.2h-2.3v-3h2.3Z" fill="#66cccc"/>
<path d="M692.6 606.6h3v2.2h2.3v3h-2.3v2.2h-3v-2.2h-2.3v-3h2.3Z" fill="#66cccc"/>
<path d="M702.9 608.5h3v2.2h2.3v3h-2.3v2.2h-3v-2.2h-2.3v-3h2.3Z" fill="#66cccc"/>
<path d="M713.1 604.6h3v2.2h2.3v3h-2.3v2.2h-3v-2.2h-2.3v-3h2.3Z" fill="#66cccc"/>
<path d="M723.3 605.3h3v2.2h2.3v3h-2.3v2.2h-3v-2.2h-2.3v-3h2.3Z" fill="#66cccc"/>
<path d="M733.5 601.7h3v2.2h2.3v3h-2.3v2.2h-3v-2.2h-2.3v-3h2.3Z" fill="#66cccc"/>
<path d="M743.7 598.7h3v2.2h2.3v3h-2.3v2.2h-3v-2.2h-2.3v-3h2.3Z" fill="#66cccc"/>
<path d="M753.9 634.6h3v2.2h2.3v3h-2.3v2.2h-3v-2.2h-2.3v-3h2.3Z" fill="#66cccc"/>
<path d="M764.1 617.5h3v2.2h2.3v3h-2.3v2.2h-3v-2.2h-2.3v-3h2.3Z" fill="#66cccc"/>
<path d="M774.3 617.5h3v2.2h2.3v3h-2.3v2.2h-3v-2.2h-2.3v-3h2.3Z" fill="#66cccc"/>
<path d="M784.5 617.5h3v2.2h2.3v3h-2.3v2.2h-3v-2.2h-2.3v-3h2.3Z" fill="#66cccc"/>
<path d="M794.7 616.6h3v2.2h2.3v3h-2.3v2.2h-3v-2.2h-2.3v-3h2.3Z" fill="#66cccc"/>
<path d="M804.9 616.6h3v2.2h2.3v3h-2.3v2.2h-3v-2.2h-2.3v-3h2.3Z" fill="#66cccc"/>
<path d="M815.1 616.6h3v2.2h2.3v3h-2.3v2.2h-3v-2.2h-2.3v-3h2.3Z" fill="#66cccc"/>
<path d="M825.3 615.9h3v2.2h2.3v3h-2.3v2.2h-3v-2.2h-2.3v-3h2.3Z" fill="#66cccc"/>
<path d="M835.6 617.0h3v2.2h2.3v3h-2.3v2.2h-3v-2.2h-2.3v-3h2.3Z" fill="#66cccc"/>
<path d="M845.8 617.2h3v2.2h2.3v3h-2.3v2.2h-3v-2.2h-2.3v-3h2.3Z" fill="#66cccc"/>
<path d="M856.0 617.9h3v2.2h2.3v3h-2.3v2.2h-3v-2.2h-2.3v-3h2.3Z" fill="#66cccc"/>
<path d="M866.2 619.2h3v2.2h2.3v3h-2.3v2.2h-3v-2.2h-2.3v-3h2.3Z" fill="#66cccc"/>
<path d="M876.4 619.2h3v2.2h2.3v3h-2.3v2.2h-3v-2.2h-2.3v-3h2.3Z" fill="#66cccc"/>
<path d="M886.6 619.2h3v2.2h2.3v3h-2.3v2.2h-3v-2.2h-2.3v-3h2.3Z" fill="#66cccc"/>
<path d="M896.8 619.8h3v2.2h2.3v3h-2.3v2.2h-3v-2.2h-2.3v-3h2.3Z" fill="#66cccc"/>
<path d="M907.0 620.2h3v2.2h2.3v3h-2.3v2.2h-3v-2.2h-2.3v-3h2.3Z" fill="#66cccc"/>
<path d="M917.2 620.9h3v2.2h2.3v3h-2.3v2.2h-3v-2.2h-2.3v-3h2.3Z" fill="#66cccc"/>
<path d="M927.4 621.6h3v2.2h2.3v3h-2.3v2.2h-3v-2.2h-2.3v-3h2.3Z" fill="#66cccc"/>
<path d="M937.6 622.2h3v2.2h2.3v3h-2.3v2.2h-3v-2.2h-2.3v-3h2.3Z" fill="#66cccc"/>
<path d="M947.8 624.2h3v2.2h2.3v3h-2.3v2.2h-3v-2.2h-2.3v-3h2.3Z" fill="#66cccc"/>
<path d="M958.1 626.8h3v2.2h2.3v3h-2.3v2.2h-3v-2.2h-2.3v-3h2.3Z" fill="#66cccc"/>
<path d="M968.3 628.1h3v2.2h2.3v3h-2.3v2.2h-3v-2.2h-2.3v-3h2.3Z" fill="#66cccc"/>
<path d="M978.5 632.0h3v2.2h2.3v3h-2.3v2.2h-3v-2.2h-2.3v-3h2.3Z" fill="#66cccc"/>
<path d="M988.7 631.3h3v2.2h2.3v3h-2.3v2.2h-3v-2.2h-2.3v-3h2.3Z" fill="#66cccc"/>
<path d="M998.9 636.6h3v2.2h2.3v3h-2.3v2.2h-3v-2.2h-2.3v-3h2.3Z" fill="#66cccc"/>
<path d="M1009.1 641.1h3v2.2h2.3v3h-2.3v2.2h-3v-2.2h-2.3v-3h2.3Z" fill="#66cccc"/>
<path d="M1019.3 641.8h3v2.2h2.3v3h-2.3v2.2h-3v-2.2h-2.3v-3h2.3Z" fill="#66cccc"/>
<path d="M1029.5 638.3h3v2.2h2.3v3h-2.3v2.2h-3v-2.2h-2.3v-3h2.3Z" fill="#66cccc"/>
<path d="M1039.7 642.4h3v2.2h2.3v3h-2.3v2.2h-3v-2.2h-2.3v-3h2.3Z" fill="#66cccc"/>
<path d="M1049.9 643.1h3v2.2h2.3v3h-2.3v2.2h-3v-2.2h-2.3v-3h2.3Z" fill="#66cccc"/>
<path d="M1060.1 647.8h3v2.2h2.3v3h-2.3v2.2h-3v-2.2h-2.3v-3h2.3Z" fill="#66cccc"/>
<path d="M1070.3 653.1h3v2.2h2.3v3h-2.3v2.2h-3v-2.2h-2.3v-3h2.3Z" fill="#66cccc"/>
<path d="M1080.5 645.6h3v2.2h2.3v3h-2.3v2.2h-3v-2.2h-2.3v-3h2.3Z" fill="#66cccc"/>
<path d="M1090.8 635.8h3v2.2h2.3v3h-2.3v2.2h-3v-2.2h-2.3v-3h2.3Z" fill="#66cccc"/>
<path d="M1101.0 645.9h3v2.2h2.3v3h-2.3v2.2h-3v-2.2h-2.3v-3h2.3Z" fill="#66cccc"/>
<path d="M1111.2 646.3h3v2.2h2.3v3h-2.3v2.2h-3v-2.2h-2.3v-3h2.3Z" fill="#66cccc"/>
<path d="M1121.4 638.5h3v2.2h2.3v3h-2.3v2.2h-3v-2.2h-2.3v-3h2.3Z" fill="#66cccc"/>
<path d="M1131.6 656.9h3v2.2h2.3v3h-2.3v2.2h-3v-2.2h-2.3v-3h2.3Z" fill="#66cccc"/>
<path d="M1141.8 667.4h3v2.2h2.3v3h-2.3v2.2h-3v-2.2h-2.3v-3h2.3Z" fill="#66cccc"/>
<path d="M168.5 639.5H171.0M176.0 639.5H179.0M199.5 612.5H202.0M207.0 612.5H210.0M229.5 649.5H232.0M237.0 649.5H240.0M234.5 621.1V676.4M239.5 580.5H242.0M247.0 580.5H250.0M244.5 540.3V620.6M250.5 665.5H253.0M258.0 665.5H261.0M255.5 656.3V672.1M260.5 600.5H263.0M268.0 600.5H271.0M280.5 574.5H283.0M288.0 574.5H291.0M291.5 642.5H294.0M299.0 642.5H302.0M296.5 628.2V654.5M301.5 612.5H304.0M309.0 612.5H312.0M306.5 583.0V641.2M311.5 618.5H314.0M319.0 618.5H322.0M321.5 637.5H324.0M329.0 637.5H332.0M326.5 625.2V649.5M331.5 579.5H334.0M339.0 579.5H342.0M336.5 551.1V608.1M342.5 631.5H345.0M350.0 631.5H353.0M347.5 594.3V667.1M352.5 661.5H355.0M360.0 661.5H363.0M357.5 650.8V670.8M362.5 642.5H365.0M370.0 642.5H373.0M372.5 574.5H375.0M380.0 574.5H383.0M377.5 547.1V600.6M382.5 591.5H385.0M390.0 591.5H393.0M387.5 559.1V623.7M393.5 592.5H396.0M401.0 592.5H404.0M398.5 562.9V621.9M403.5 650.5H406.0M411.0 650.5H414.0M408.5 629.4V669.6M413.5 655.5H416.0M421.0 655.5H424.0M418.5 643.2V664.6M423.5 610.5H426.0M431.0 610.5H434.0M428.5 595.0V622.7M433.5 605.5H436.0M441.0 605.5H444.0M438.5 580.0V629.6M444.5 605.5H447.0M452.0 605.5H455.0M449.5 591.1V618.5M454.5 624.5H457.0M462.0 624.5H465.0M459.5 609.4V637.2M464.5 628.5H467.0M472.0 628.5H475.0M469.5 617.9V639.4M474.5 604.5H477.0M482.0 604.5H485.0M479.5 591.1V617.9M484.5 629.5H487.0M492.0 629.5H495.0M495.5 623.5H498.0M503.0 623.5H506.0M500.5 614.6V631.6M505.5 605.5H508.0M513.0 605.5H516.0M510.5 596.3V613.9M515.5 611.5H518.0M523.0 611.5H526.0M520.5 603.2V620.5M525.5 611.5H528.0M533.0 611.5H536.0M530.5 604.2V617.9M536.5 622.5H539.0M544.0 622.5H547.0M541.5 616.6V627.0M546.5 601.5H549.0M554.0 601.5H557.0M551.5 595.7V606.1M556.5 606.5H559.0M564.0 606.5H567.0M561.5 600.2V610.0M566.5 609.5H569.0M574.0 609.5H577.0M571.5 604.2V612.0M576.5 609.5H579.0M584.0 609.5H587.0M587.5 608.5H590.0M595.0 608.5H598.0M597.5 609.5H600.0M605.0 609.5H608.0M607.5 605.5H610.0M615.0 605.5H618.0M617.5 613.5H620.0M625.0 613.5H628.0M627.5 609.5H630.0M635.0 609.5H638.0M638.5 609.5H641.0M646.0 609.5H649.0M648.5 609.5H651.0M656.0 609.5H659.0M658.5 611.5H661.0M666.0 611.5H669.0M668.5 605.5H671.0M676.0 605.5H679.0M678.5 608.5H681.0M686.0 608.5H689.0M689.5 611.5H692.0M697.0 611.5H700.0M699.5 609.5H702.0M707.0 609.5H710.0M709.5 611.5H712.0M717.0 611.5H720.0M719.5 608.5H722.0M727.0 608.5H730.0M729.5 611.5H732.0M737.0 611.5H740.0M740.5 606.5H743.0M748.0 606.5H751.0M750.5 640.5H753.0M758.0 640.5H761.0M760.5 625.5H763.0M768.0 625.5H771.0M770.5 628.5H773.0M778.0 628.5H781.0M781.5 627.5H784.0M789.0 627.5H792.0M791.5 626.5H794.0M799.0 626.5H802.0M801.5 626.5H804.0M809.0 626.5H812.0M811.5 626.5H814.0M819.0 626.5H822.0M821.5 628.5H824.0M829.0 628.5H832.0M832.5 628.5H835.0M840.0 628.5H843.0M842.5 630.5H845.0M850.0 630.5H853.0M852.5 630.5H855.0M860.0 630.5H863.0M862.5 630.5H865.0M870.0 630.5H873.0M872.5 630.5H875.0M880.0 630.5H883.0M883.5 630.5H886.0M891.0 630.5H894.0M893.5 628.5H896.0M901.0 628.5H904.0M903.5 628.5H906.0M911.0 628.5H914.0M913.5 627.5H916.0M921.0 627.5H924.0M923.5 629.5H926.0M931.0 629.5H934.0M934.5 628.5H937.0M942.0 628.5H945.0M944.5 631.5H947.0M952.0 631.5H955.0M954.5 632.5H957.0M962.0 632.5H965.0M964.5 630.5H967.0M972.0 630.5H975.0M974.5 637.5H977.0M982.0 637.5H985.0M985.5 640.5H988.0M993.0 640.5H996.0M995.5 642.5H998.0M1003.0 642.5H1006.0M1005.5 647.5H1008.0M1013.0 647.5H1016.0M1015.5 646.5H1018.0M1023.0 646.5H1026.0M1026.5 652.5H1029.0M1034.0 652.5H1037.0M1036.5 658.5H1039.0M1044.0 658.5H1047.0M1041.5 650.7V664.4M1046.5 659.5H1049.0M1054.0 659.5H1057.0M1051.5 652.0V667.7M1056.5 653.5H1059.0M1064.0 653.5H1067.0M1066.5 658.5H1069.0M1074.0 658.5H1077.0M1077.5 689.5H1080.0M1085.0 689.5H1088.0M1082.5 678.2V701.3M1087.5 672.5H1090.0M1095.0 672.5H1098.0M1092.5 651.5V692.7M1097.5 662.5H1100.0M1105.0 662.5H1108.0M1102.5 640.3V681.7M1107.5 609.5H1110.0M1115.0 609.5H1118.0M1112.5 572.0V650.8M1117.5 736.5H1120.0M1125.0 736.5H1128.0M1128.5 524.5H1131.0M1136.0 524.5H1139.0M1138.5 666.5H1141.0M1146.0 666.5H1149.0M1143.5 639.5V693.7" stroke="#990099" stroke-width="1" fill="none"/>
<rect x="169.5" y="635.2" width="6" height="6" fill="#990099"/>
<rect x="200.2" y="607.9" width="6" height="6" fill="#990099"/>
<rect x="230.8" y="645.3" width="6" height="6" fill="#990099"/>
<rect x="241.0" y="576.2" width="6" height="6" fill="#990099"/>
<rect x="251.2" y="661.1" width="6" height="6" fill="#990099"/>
<rect x="261.4" y="596.3" width="6" height="6" fill="#990099"/>
<rect x="281.8" y="570.0" width="6" height="6" fill="#990099"/>
<rect x="292.0" y="638.2" width="6" height="6" fill="#990099"/>
<rect x="302.2" y="607.9" width="6" height="6" fill="#990099"/>
<rect x="312.4" y="614.1" width="6" height="6" fill="#990099"/>
<rect x="322.7" y="633.2" width="6" height="6" fill="#990099"/>
<rect x="332.9" y="575.0" width="6" height="6" fill="#990099"/>
<rect x="343.1" y="627.2" width="6" height="6" fill="#990099"/>
<rect x="353.3" y="657.1" width="6" height="6" fill="#990099"/>
<rect x="363.5" y="638.2" width="6" height="6" fill="#990099"/>
<rect x="373.7" y="570.0" width="6" height="6" fill="#990099"/>
<rect x="383.9" y="587.0" width="6" height="6" fill="#990099"/>
<rect x="394.1" y="588.0" width="6" height="6" fill="#990099"/>
<rect x="404.3" y="646.0" width="6" height="6" fill="#990099"/>
<rect x="414.5" y="650.8" width="6" height="6" fill="#990099"/>
<rect x="424.7" y="605.8" width="6" height="6" fill="#990099"/>
<rect x="434.9" y="600.9" width="6" height="6" fill="#990099"/>
<rect x="445.2" y="600.9" width="6" height="6" fill="#990099"/>
<rect x="455.4" y="620.1" width="6" height="6" fill="#990099"/>
<rect x="465.6" y="624.0" width="6" height="6" fill="#990099"/>
<rect x="475.8" y="599.9" width="6" height="6" fill="#990099"/>
<rect x="486.0" y="624.9" width="6" height="6" fill="#990099"/>
<rect x="496.2" y="618.8" width="6" height="6" fill="#990099"/>
<rect x="506.4" y="600.9" width="6" height="6" fill="#990099"/>
<rect x="516.6" y="607.0" width="6" height="6" fill="#990099"/>
<rect x="526.8" y="607.0" width="6" height="6" fill="#990099"/>
<rect x="537.0" y="618.1" width="6" height="6" fill="#990099"/>
<rect x="547.2" y="597.0" width="6" height="6" fill="#990099"/>
<rect x="557.4" y="601.8" width="6" height="6" fill="#990099"/>
<rect x="567.6" y="605.1" width="6" height="6" fill="#990099"/>
<rect x="577.9" y="604.8" width="6" height="6" fill="#990099"/>
<rect x="588.1" y="603.8" width="6" height="6" fill="#990099"/>
<rect x="598.3" y="605.3" width="6" height="6" fill="#990099"/>
<rect x="608.5" y="601.6" width="6" height="6" fill="#990099"/>
<rect x="618.7" y="609.0" width="6" height="6" fill="#990099"/>
<rect x="628.9" y="605.6" width="6" height="6" fill="#990099"/>
<rect x="639.1" y="604.9" width="6" height="6" fill="#990099"/>
<rect x="649.3" y="604.9" width="6" height="6" fill="#990099"/>
<rect x="659.5" y="606.9" width="6" height="6" fill="#990099"/>
<rect x="669.7" y="600.7" width="6" height="6" fill="#990099"/>
<rect x="679.9" y="604.7" width="6" height="6" fill="#990099"/>
<rect x="690.1" y="606.9" width="6" height="6" fill="#990099"/>
<rect x="700.4" y="604.9" width="6" height="6" fill="#990099"/>
<rect x="710.6" y="606.9" width="6" height="6" fill="#990099"/>
<rect x="720.8" y="603.7" width="6" height="6" fill="#990099"/>
<rect x="731.0" y="606.9" width="6" height="6" fill="#990099"/>
<rect x="741.2" y="601.8" width="6" height="6" fill="#990099"/>
<rect x="751.4" y="636.6" width="6" height="6" fill="#990099"/>
<rect x="761.6" y="620.9" width="6" height="6" fill="#990099"/>
<rect x="771.8" y="623.8" width="6" height="6" fill="#990099"/>
<rect x="782.0" y="622.7" width="6" height="6" fill="#990099"/>
<rect x="792.2" y="621.8" width="6" height="6" fill="#990099"/>
<rect x="802.4" y="621.8" width="6" height="6" fill="#990099"/>
<rect x="812.6" y="621.8" width="6" height="6" fill="#990099"/>
<rect x="822.8" y="623.8" width="6" height="6" fill="#990099"/>
<rect x="833.1" y="623.8" width="6" height="6" fill="#990099"/>
<rect x="843.3" y="625.7" width="6" height="6" fill="#990099"/>
<rect x="853.5" y="625.7" width="6" height="6" fill="#990099"/>
<rect x="863.7" y="626.7" width="6" height="6" fill="#990099"/>
<rect x="873.9" y="625.7" width="6" height="6" fill="#990099"/>
<rect x="884.1" y="625.7" width="6" height="6" fill="#990099"/>
<rect x="894.3" y="623.8" width="6" height="6" fill="#990099"/>
<rect x="904.5" y="624.5" width="6" height="6" fill="#990099"/>
<rect x="914.7" y="622.9" width="6" height="6" fill="#990099"/>
<rect x="924.9" y="624.9" width="6" height="6" fill="#990099"/>
<rect x="935.1" y="623.9" width="6" height="6" fill="#990099"/>
<rect x="945.3" y="626.8" width="6" height="6" fill="#990099"/>
<rect x="955.6" y="628.1" width="6" height="6" fill="#990099"/>
<rect x="965.8" y="625.9" width="6" height="6" fill="#990099"/>
<rect x="976.0" y="633.0" width="6" height="6" fill="#990099"/>
<rect x="986.2" y="636.0" width="6" height="6" fill="#990099"/>
<rect x="996.4" y="638.2" width="6" height="6" fill="#990099"/>
<rect x="1006.6" y="642.9" width="6" height="6" fill="#990099"/>
<rect x="1016.8" y="642.1" width="6" height="6" fill="#990099"/>
<rect x="1027.0" y="647.7" width="6" height="6" fill="#990099"/>
<rect x="1037.2" y="653.8" width="6" height="6" fill="#990099"/>
<rect x="1047.4" y="654.9" width="6" height="6" fill="#990099"/>
<rect x="1057.6" y="649.0" width="6" height="6" fill="#990099"/>
<rect x="1067.8" y="654.1" width="6" height="6" fill="#990099"/>
<rect x="1078.0" y="685.0" width="6" height="6" fill="#990099"/>
<rect x="1088.3" y="668.1" width="6" height="6" fill="#990099"/>
<rect x="1098.5" y="658.0" width="6" height="6" fill="#990099"/>
<rect x="1108.7" y="604.9" width="6" height="6" fill="#990099"/>
<rect x="1118.9" y="732.3" width="6" height="6" fill="#990099"/>
<rect x="1129.1" y="520.1" width="6" height="6" fill="#990099"/>
<rect x="1139.3" y="662.1" width="6" height="6" fill="#990099"/>
<path d="M127.5 682.5H130.0M135.0 682.5H138.0M158.5 618.5H161.0M166.0 618.5H169.0M163.5 514.0V722.8M168.5 818.5H171.0M176.0 818.5H179.0M178.5 604.5H181.0M186.0 604.5H189.0M183.5 465.0V742.9M188.5 780.5H191.0M196.0 780.5H199.0M193.5 758.4V802.6M199.5 529.5H202.0M207.0 529.5H210.0M209.5 532.5H212.0M217.0 532.5H220.0M214.5 466.3V598.6M219.5 771.5H222.0M227.0 771.5H230.0M224.5 730.3V812.7M229.5 842.5H232.0M237.0 842.5H240.0M239.5 756.5H242.0M247.0 756.5H250.0M244.5 725.3V787.6M250.5 548.5H253.0M258.0 548.5H261.0M255.5 474.3V623.7M260.5 570.5H263.0M268.0 570.5H271.0M265.5 493.1V647.8M270.5 695.5H273.0M278.0 695.5H281.0M275.5 647.7V742.9M280.5 615.5H283.0M288.0 615.5H291.0M285.5 510.2V722.3M291.5 729.5H294.0M299.0 729.5H302.0M296.5 691.4V767.5M301.5 710.5H304.0M309.0 710.5H312.0M306.5 686.4V735.8M311.5 630.5H314.0M319.0 630.5H322.0M316.5 590.5V672.1M321.5 740.5H324.0M329.0 740.5H332.0M326.5 724.0V756.7M331.5 679.5H334.0M339.0 679.5H342.0M336.5 640.7V717.8M342.5 677.5H345.0M350.0 677.5H353.0M347.5 647.0V709.0M352.5 720.5H355.0M360.0 720.5H363.0M357.5 703.2V737.9M362.5 646.5H365.0M370.0 646.5H373.0M367.5 616.1V676.4M372.5 705.5H375.0M380.0 705.5H383.0M377.5 685.9V724.0M382.5 703.5H385.0M390.0 703.5H393.0M387.5 681.4V726.6M393.5 648.5H396.0M401.0 648.5H404.0M398.5 628.2V669.6M403.5 669.5H406.0M411.0 669.5H414.0M408.5 647.0V685.9M413.5 668.5H416.0M421.0 668.5H424.0M418.5 650.8V686.4M423.5 670.5H426.0M431.0 670.5H434.0M428.5 649.5V685.2M433.5 660.5H436.0M441.0 660.5H444.0M438.5 648.8V672.1M444.5 657.5H447.0M452.0 657.5H455.0M449.5 646.3V667.5M454.5 647.5H457.0M462.0 647.5H465.0M459.5 637.2V657.3M464.5 649.5H467.0M472.0 649.5H475.0M469.5 640.0V657.7M474.5 662.5H477.0M482.0 662.5H485.0M479.5 654.4V670.7M484.5 639.5H487.0M492.0 639.5H495.0M489.5 632.2V646.6M495.5 647.5H498.0M503.0 647.5H506.0M500.5 641.4V653.8M505.5 626.5H508.0M513.0 626.5H516.0M510.5 621.1V631.6M515.5 631.5H518.0M523.0 631.5H526.0M520.5 627.0V636.1M525.5 633.5H528.0M533.0 633.5H536.0M530.5 629.0V637.7M536.5 631.5H539.0M544.0 631.5H547.0M541.5 627.0V635.9M546.5 624.5H549.0M554.0 624.5H557.0M556.5 622.5H559.0M564.0 622.5H567.0M566.5 618.5H569.0M574.0 618.5H577.0M576.5 616.5H579.0M584.0 616.5H587.0M587.5 611.5H590.0M595.0 611.5H598.0M597.5 612.5H600.0M605.0 612.5H608.0M607.5 605.5H610.0M615.0 605.5H618.0M617.5 605.5H620.0M625.0 605.5H628.0M627.5 600.5H630.0M635.0 600.5H638.0M638.5 599.5H641.0M646.0 599.5H649.0M648.5 594.5H651.0M656.0 594.5H659.0M658.5 591.5H661.0M666.0 591.5H669.0M668.5 587.5H671.0M676.0 587.5H679.0M678.5 584.5H681.0M686.0 584.5H689.0M689.5 580.5H692.0M697.0 580.5H700.0M699.5 575.5H702.0M707.0 575.5H710.0M709.5 569.5H712.0M717.0 569.5H720.0M719.5 563.5H722.0M727.0 563.5H730.0M729.5 555.5H732.0M737.0 555.5H740.0M740.5 546.5H743.0M748.0 546.5H751.0M750.5 556.5H753.0M758.0 556.5H761.0M760.5 560.5H763.0M768.0 560.5H771.0M770.5 570.5H773.0M778.0 570.5H781.0M781.5 577.5H784.0M789.0 577.5H792.0M791.5 583.5H794.0M799.0 583.5H802.0M801.5 588.5H804.0M809.0 588.5H812.0M811.5 591.5H814.0M819.0 591.5H822.0M821.5 595.5H824.0M829.0 595.5H832.0M832.5 597.5H835.0M840.0 597.5H843.0M842.5 601.5H845.0M850.0 601.5H853.0M852.5 603.5H855.0M860.0 603.5H863.0M862.5 606.5H865.0M870.0 606.5H873.0M872.5 608.5H875.0M880.0 608.5H883.0M883.5 610.5H886.0M891.0 610.5H894.0M893.5 612.5H896.0M901.0 612.5H904.0M903.5 615.5H906.0M911.0 615.5H914.0M913.5 616.5H916.0M921.0 616.5H924.0M923.5 618.5H926.0M931.0 618.5H934.0M934.5 619.5H937.0M942.0 619.5H945.0M944.5 623.5H947.0M952.0 623.5H955.0M954.5 624.5H957.0M962.0 624.5H965.0M964.5 625.5H967.0M972.0 625.5H975.0M974.5 626.5H977.0M982.0 626.5H985.0M985.5 625.5H988.0M993.0 625.5H996.0M995.5 628.5H998.0M1003.0 628.5H1006.0M1005.5 626.5H1008.0M1013.0 626.5H1016.0M1015.5 626.5H1018.0M1023.0 626.5H1026.0M1020.5 622.6V631.1M1026.5 634.5H1029.0M1034.0 634.5H1037.0M1031.5 630.5V639.6M1036.5 630.5H1039.0M1044.0 630.5H1047.0M1041.5 625.2V635.7M1046.5 628.5H1049.0M1054.0 628.5H1057.0M1051.5 621.1V635.7M1056.5 647.5H1059.0M1064.0 647.5H1067.0M1061.5 640.3V654.6M1066.5 632.5H1069.0M1074.0 632.5H1077.0M1071.5 620.4V643.6M1077.5 648.5H1080.0M1085.0 648.5H1088.0M1082.5 637.2V660.6M1087.5 608.5H1090.0M1095.0 608.5H1098.0M1092.5 577.0V640.3M1097.5 671.5H1100.0M1105.0 671.5H1108.0M1102.5 641.0V691.8M1107.5 524.5H1110.0M1115.0 524.5H1118.0M1112.5 477.1V572.0M1117.5 557.5H1120.0M1125.0 557.5H1128.0M1122.5 528.5V587.8M1128.5 595.5H1131.0M1136.0 595.5H1139.0M1138.5 588.5H1141.0M1146.0 588.5H1149.0" stroke="#000000" stroke-width="1" fill="none"/>
<path d="M132.3 679.5L134.7 682.6L132.5 685.9L130.1 683.1Z" fill="#000000"/>
<path d="M162.9 615.0L165.3 618.1L163.1 621.4L160.7 618.6Z" fill="#000000"/>
<path d="M173.1 814.8L175.5 817.9L173.3 821.2L170.9 818.4Z" fill="#000000"/>
<path d="M183.3 600.9L185.7 604.0L183.5 607.3L181.1 604.5Z" fill="#000000"/>
<path d="M193.6 777.1L196.0 780.2L193.8 783.5L191.4 780.7Z" fill="#000000"/>
<path d="M203.8 525.9L206.2 529.0L204.0 532.3L201.6 529.5Z" fill="#000000"/>
<path d="M214.0 529.1L216.4 532.2L214.2 535.5L211.8 532.7Z" fill="#000000"/>
<path d="M224.2 768.3L226.6 771.4L224.4 774.7L222.0 771.9Z" fill="#000000"/>
<path d="M234.4 839.1L236.8 842.2L234.6 845.5L232.2 842.7Z" fill="#000000"/>
<path d="M244.6 752.8L247.0 755.9L244.8 759.2L242.4 756.4Z" fill="#000000"/>
<path d="M254.8 545.0L257.2 548.1L255.0 551.4L252.6 548.6Z" fill="#000000"/>
<path d="M265.0 567.0L267.4 570.1L265.2 573.4L262.8 570.6Z" fill="#000000"/>
<path d="M275.2 692.3L277.6 695.4L275.4 698.7L273.0 695.9Z" fill="#000000"/>
<path d="M285.4 612.2L287.8 615.3L285.6 618.6L283.2 615.8Z" fill="#000000"/>
<path d="M295.6 726.2L298.0 729.3L295.8 732.6L293.4 729.8Z" fill="#000000"/>
<path d="M305.8 706.8L308.2 709.9L306.0 713.2L303.6 710.4Z" fill="#000000"/>
<path d="M316.0 627.3L318.4 630.4L316.2 633.7L313.8 630.9Z" fill="#000000"/>
<path d="M326.3 737.0L328.7 740.1L326.5 743.4L324.1 740.6Z" fill="#000000"/>
<path d="M336.5 676.2L338.9 679.3L336.7 682.6L334.3 679.8Z" fill="#000000"/>
<path d="M346.7 674.2L349.1 677.3L346.9 680.6L344.5 677.8Z" fill="#000000"/>
<path d="M356.9 716.9L359.3 720.0L357.1 723.3L354.7 720.5Z" fill="#000000"/>
<path d="M367.1 643.1L369.5 646.2L367.3 649.5L364.9 646.7Z" fill="#000000"/>
<path d="M377.3 701.8L379.7 704.9L377.5 708.2L375.1 705.4Z" fill="#000000"/>
<path d="M387.5 700.1L389.9 703.2L387.7 706.5L385.3 703.7Z" fill="#000000"/>
<path d="M397.7 644.9L400.1 648.0L397.9 651.3L395.5 648.5Z" fill="#000000"/>
<path d="M407.9 665.7L410.3 668.8L408.1 672.1L405.7 669.3Z" fill="#000000"/>
<path d="M418.1 664.9L420.5 668.0L418.3 671.3L415.9 668.5Z" fill="#000000"/>
<path d="M428.3 666.9L430.7 670.0L428.5 673.3L426.1 670.5Z" fill="#000000"/>
<path d="M438.5 656.9L440.9 660.0L438.7 663.3L436.3 660.5Z" fill="#000000"/>
<path d="M448.8 653.9L451.2 657.0L449.0 660.3L446.6 657.5Z" fill="#000000"/>
<path d="M459.0 643.8L461.4 646.9L459.2 650.2L456.8 647.4Z" fill="#000000"/>
<path d="M469.2 646.0L471.6 649.1L469.4 652.4L467.0 649.6Z" fill="#000000"/>
<path d="M479.4 659.1L481.8 662.2L479.6 665.5L477.2 662.7Z" fill="#000000"/>
<path d="M489.6 636.0L492.0 639.1L489.8 642.4L487.4 639.6Z" fill="#000000"/>
<path d="M499.8 643.8L502.2 646.9L500.0 650.2L497.6 647.4Z" fill="#000000"/>
<path d="M510.0 622.9L512.4 626.0L510.2 629.3L507.8 626.5Z" fill="#000000"/>
<path d="M520.2 628.2L522.6 631.3L520.4 634.6L518.0 631.8Z" fill="#000000"/>
<path d="M530.4 629.9L532.8 633.0L530.6 636.3L528.2 633.5Z" fill="#000000"/>
<path d="M540.6 627.9L543.0 631.0L540.8 634.3L538.4 631.5Z" fill="#000000"/>
<path d="M550.8 621.0L553.2 624.1L551.0 627.4L548.6 624.6Z" fill="#000000"/>
<path d="M561.0 618.8L563.4 621.9L561.2 625.2L558.8 622.4Z" fill="#000000"/>
<path d="M571.2 614.7L573.6 617.8L571.4 621.1L569.0 618.3Z" fill="#000000"/>
<path d="M581.5 613.2L583.9 616.3L581.7 619.6L579.3 616.8Z" fill="#000000"/>
<path d="M591.7 607.9L594.1 611.0L591.9 614.3L589.5 611.5Z" fill="#000000"/>
<path d="M601.9 608.8L604.3 611.9L602.1 615.2L599.7 612.4Z" fill="#000000"/>
<path d="M612.1 601.6L614.5 604.7L612.3 608.0L609.9 605.2Z" fill="#000000"/>
<path d="M622.3 601.9L624.7 605.0L622.5 608.3L620.1 605.5Z" fill="#000000"/>
<path d="M632.5 597.1L634.9 600.2L632.7 603.5L630.3 600.7Z" fill="#000000"/>
<path d="M642.7 595.8L645.1 598.9L642.9 602.2L640.5 599.4Z" fill="#000000"/>
<path d="M652.9 590.8L655.3 593.9L653.1 597.2L650.7 594.4Z" fill="#000000"/>
<path d="M663.1 587.7L665.5 590.8L663.3 594.1L660.9 591.3Z" fill="#000000"/>
<path d="M673.3 583.8L675.7 586.9L673.5 590.2L671.1 587.4Z" fill="#000000"/>
<path d="M683.5 580.8L685.9 583.9L683.7 587.2L681.3 584.4Z" fill="#000000"/>
<path d="M693.7 576.8L696.1 579.9L693.9 583.2L691.5 580.4Z" fill="#000000"/>
<path d="M704.0 571.9L706.4 575.0L704.2 578.3L701.8 575.5Z" fill="#000000"/>
<path d="M714.2 565.8L716.6 568.9L714.4 572.2L712.0 569.4Z" fill="#000000"/>
<path d="M724.4 559.9L726.8 563.0L724.6 566.3L722.2 563.5Z" fill="#000000"/>
<path d="M734.6 552.0L737.0 555.1L734.8 558.4L732.4 555.6Z" fill="#000000"/>
<path d="M744.8 543.6L747.2 546.7L745.0 550.0L742.6 547.2Z" fill="#000000"/>
<path d="M755.0 552.9L757.4 556.0L755.2 559.3L752.8 556.5Z" fill="#000000"/>
<path d="M765.2 556.8L767.6 559.9L765.4 563.2L763.0 560.4Z" fill="#000000"/>
<path d="M775.4 566.9L777.8 570.0L775.6 573.3L773.2 570.5Z" fill="#000000"/>
<path d="M785.6 574.1L788.0 577.2L785.8 580.5L783.4 577.7Z" fill="#000000"/>
<path d="M795.8 580.1L798.2 583.2L796.0 586.5L793.6 583.7Z" fill="#000000"/>
<path d="M806.0 584.9L808.4 588.0L806.2 591.3L803.8 588.5Z" fill="#000000"/>
<path d="M816.2 587.9L818.6 591.0L816.4 594.3L814.0 591.5Z" fill="#000000"/>
<path d="M826.4 591.8L828.8 594.9L826.6 598.2L824.2 595.4Z" fill="#000000"/>
<path d="M836.7 593.8L839.1 596.9L836.9 600.2L834.5 597.4Z" fill="#000000"/>
<path d="M846.9 597.9L849.3 601.0L847.1 604.3L844.7 601.5Z" fill="#000000"/>
<path d="M857.1 599.9L859.5 603.0L857.3 606.3L854.9 603.5Z" fill="#000000"/>
<path d="M867.3 602.9L869.7 606.0L867.5 609.3L865.1 606.5Z" fill="#000000"/>
<path d="M877.5 604.7L879.9 607.8L877.7 611.1L875.3 608.3Z" fill="#000000"/>
<path d="M887.7 606.8L890.1 609.9L887.9 613.2L885.5 610.4Z" fill="#000000"/>
<path d="M897.9 608.8L900.3 611.9L898.1 615.2L895.7 612.4Z" fill="#000000"/>
<path d="M908.1 611.8L910.5 614.9L908.3 618.2L905.9 615.4Z" fill="#000000"/>
<path d="M918.3 613.0L920.7 616.1L918.5 619.4L916.1 616.6Z" fill="#000000"/>
<path d="M928.5 614.9L930.9 618.0L928.7 621.3L926.3 618.5Z" fill="#000000"/>
<path d="M938.7 616.0L941.1 619.1L938.9 622.4L936.5 619.6Z" fill="#000000"/>
<path d="M948.9 620.2L951.3 623.3L949.1 626.6L946.7 623.8Z" fill="#000000"/>
<path d="M959.2 620.8L961.6 623.9L959.4 627.2L957.0 624.4Z" fill="#000000"/>
<path d="M969.4 621.9L971.8 625.0L969.6 628.3L967.2 625.5Z" fill="#000000"/>
<path d="M979.6 622.9L982.0 626.0L979.8 629.3L977.4 626.5Z" fill="#000000"/>
<path d="M989.8 621.9L992.2 625.0L990.0 628.3L987.6 625.5Z" fill="#000000"/>
<path d="M1000.0 625.1L1002.4 628.2L1000.2 631.5L997.8 628.7Z" fill="#000000"/>
<path d="M1010.2 622.9L1012.6 626.0L1010.4 629.3L1008.0 626.5Z" fill="#000000"/>
<path d="M1020.4 622.9L1022.8 626.0L1020.6 629.3L1018.2 626.5Z" fill="#000000"/>
<path d="M1030.6 631.0L1033.0 634.1L1030.8 637.4L1028.4 634.6Z" fill="#000000"/>
<path d="M1040.8 627.1L1043.2 630.2L1041.0 633.5L1038.6 630.7Z" fill="#000000"/>
<path d="M1051.0 624.7L1053.4 627.8L1051.2 631.1L1048.8 628.3Z" fill="#000000"/>
<path d="M1061.2 644.4L1063.6 647.5L1061.4 650.8L1059.0 648.0Z" fill="#000000"/>
<path d="M1071.4 628.9L1073.8 632.0L1071.6 635.3L1069.2 632.5Z" fill="#000000"/>
<path d="M1081.6 645.1L1084.0 648.2L1081.8 651.5L1079.4 648.7Z" fill="#000000"/>
<path d="M1091.9 604.9L1094.3 608.0L1092.1 611.3L1089.7 608.5Z" fill="#000000"/>
<path d="M1102.1 667.7L1104.5 670.8L1102.3 674.1L1099.9 671.3Z" fill="#000000"/>
<path d="M1112.3 520.9L1114.7 524.0L1112.5 527.3L1110.1 524.5Z" fill="#000000"/>
<path d="M1122.5 554.0L1124.9 557.1L1122.7 560.4L1120.3 557.6Z" fill="#000000"/>
<path d="M1132.7 592.0L1135.1 595.1L1132.9 598.4L1130.5 595.6Z" fill="#000000"/>
<path d="M1142.9 585.2L1145.3 588.3L1143.1 591.6L1140.7 588.8Z" fill="#000000"/>
<path d="M127.5 245.5H130.0M135.0 245.5H138.0M132.5 234.3V254.6M137.5 252.5H140.0M145.0 252.5H148.0M148.5 318.5H151.0M156.0 318.5H159.0M158.5 287.5H161.0M166.0 287.5H169.0M163.5 268.9V304.8M178.5 304.5H181.0M186.0 304.5H189.0M183.5 293.3V313.6M188.5 341.5H191.0M196.0 341.5H199.0M193.5 322.2V358.6M199.5 386.5H202.0M207.0 386.5H210.0M204.5 339.2V430.3M209.5 394.5H212.0M217.0 394.5H220.0M219.5 356.5H222.0M227.0 356.5H230.0M224.5 344.0V367.6M229.5 386.5H232.0M237.0 386.5H240.0M234.5 314.9V456.4M239.5 367.5H242.0M247.0 367.5H250.0M244.5 306.1V425.8M250.5 290.5H253.0M258.0 290.5H261.0M255.5 273.2V304.8M260.5 260.5H263.0M268.0 260.5H271.0M270.5 282.5H273.0M278.0 282.5H281.0M275.5 258.2V305.8M280.5 322.5H283.0M288.0 322.5H291.0M285.5 293.0V350.5M291.5 301.5H294.0M299.0 301.5H302.0M296.5 279.0V321.7M301.5 319.5H304.0M309.0 319.5H312.0M306.5 299.8V336.7M311.5 344.5H314.0M319.0 344.5H322.0M316.5 314.1V372.6M321.5 302.5H324.0M329.0 302.5H332.0M326.5 284.0V318.6M331.5 352.5H334.0M339.0 352.5H342.0M336.5 320.9V380.6M342.5 292.5H345.0M350.0 292.5H353.0M347.5 278.2V304.8M352.5 328.5H355.0M360.0 328.5H363.0M357.5 304.1V350.5M362.5 350.5H365.0M370.0 350.5H373.0M367.5 324.9V373.6M372.5 320.5H375.0M380.0 320.5H383.0M377.5 307.1V331.7M382.5 302.5H385.0M390.0 302.5H393.0M387.5 290.3V312.9M393.5 280.5H396.0M401.0 280.5H404.0M398.5 266.9V292.0M403.5 318.5H406.0M411.0 318.5H414.0M408.5 304.1V330.4M413.5 303.5H416.0M421.0 303.5H424.0M418.5 291.0V314.1M423.5 307.5H426.0M431.0 307.5H434.0M428.5 294.8V317.9M433.5 300.5H436.0M441.0 300.5H444.0M438.5 287.8V310.9M444.5 322.5H447.0M452.0 322.5H455.0M449.5 311.1V330.9M454.5 301.5H457.0M462.0 301.5H465.0M459.5 289.0V312.9M464.5 333.5H467.0M472.0 333.5H475.0M469.5 316.6V348.0M474.5 312.5H477.0M482.0 312.5H485.0M479.5 299.8V322.2M484.5 312.5H487.0M492.0 312.5H495.0M489.5 301.1V320.9M495.5 313.5H498.0M503.0 313.5H506.0M500.5 302.8V322.9M505.5 306.5H508.0M513.0 306.5H516.0M510.5 295.8V314.1M515.5 306.5H518.0M523.0 306.5H526.0M520.5 297.1V314.1M525.5 319.5H528.0M533.0 319.5H536.0M530.5 309.1V327.9M536.5 316.5H539.0M544.0 316.5H547.0M541.5 306.1V324.9M546.5 320.5H549.0M554.0 320.5H557.0M551.5 311.1V327.9M556.5 331.5H559.0M564.0 331.5H567.0M561.5 322.9V338.7M566.5 325.5H569.0M574.0 325.5H577.0M571.5 314.9V333.7M576.5 335.5H579.0M584.0 335.5H587.0M581.5 326.7V342.2M587.5 327.5H590.0M595.0 327.5H598.0M592.5 319.1V333.5M597.5 345.5H600.0M605.0 345.5H608.0M602.5 336.7V353.0M607.5 342.5H610.0M615.0 342.5H618.0M612.5 333.7V350.0M617.5 348.5H620.0M625.0 348.5H628.0M622.5 340.0V353.0M627.5 337.5H630.0M635.0 337.5H638.0M632.5 329.7V343.7M638.5 352.5H641.0M646.0 352.5H649.0M643.5 345.0V357.6M648.5 350.5H651.0M656.0 350.5H659.0M653.5 344.2V355.5M658.5 350.5H661.0M666.0 350.5H669.0M663.5 343.0V355.5M668.5 349.5H671.0M676.0 349.5H679.0M673.5 344.2V353.0M678.5 357.5H681.0M686.0 357.5H689.0M683.5 351.0V362.6M689.5 360.5H692.0M697.0 360.5H700.0M694.5 355.5V365.1M699.5 353.5H702.0M707.0 353.5H710.0M704.5 347.5V356.8M709.5 357.5H712.0M717.0 357.5H720.0M714.5 353.0V360.6M719.5 356.5H722.0M727.0 356.5H730.0M729.5 356.5H732.0M737.0 356.5H740.0M740.5 355.5H743.0M748.0 355.5H751.0M750.5 384.5H753.0M758.0 384.5H761.0M760.5 348.5H763.0M768.0 348.5H771.0M770.5 334.5H773.0M778.0 334.5H781.0M781.5 329.5H784.0M789.0 329.5H792.0M791.5 318.5H794.0M799.0 318.5H802.0M801.5 315.5H804.0M809.0 315.5H812.0M811.5 312.5H814.0M819.0 312.5H822.0M816.5 306.1V316.6M821.5 299.5H824.0M829.0 299.5H832.0M826.5 293.5V303.6M832.5 291.5H835.0M840.0 291.5H843.0M837.5 284.8V295.8M842.5 287.5H845.0M850.0 287.5H853.0M847.5 280.2V292.8M852.5 281.5H855.0M860.0 281.5H863.0M857.5 274.0V286.5M862.5 286.5H865.0M870.0 286.5H873.0M867.5 279.0V291.5M872.5 284.5H875.0M880.0 284.5H883.0M877.5 274.0V292.8M883.5 278.5H886.0M891.0 278.5H894.0M888.5 267.2V287.8M893.5 288.5H896.0M901.0 288.5H904.0M898.5 273.2V302.8M903.5 313.5H906.0M911.0 313.5H914.0M908.5 295.3V329.7M913.5 308.5H916.0M921.0 308.5H924.0M918.5 290.3V324.9M923.5 295.5H926.0M931.0 295.5H934.0M928.5 271.5V317.9M934.5 368.5H937.0M942.0 368.5H945.0M939.5 342.2V392.7M944.5 344.5H947.0M952.0 344.5H955.0M949.5 308.4V378.6M954.5 420.5H957.0M962.0 420.5H965.0M959.5 393.9V443.4M964.5 401.5H967.0M972.0 401.5H975.0M969.5 337.2V466.5M974.5 301.5H977.0M982.0 301.5H985.0" stroke="#ff0000" stroke-width="1" fill="none"/>
<path d="M132.7 241.4L136.2 247.7H129.2Z" fill="#ff0000"/>
<path d="M142.9 249.0L146.4 255.3H139.4Z" fill="#ff0000"/>
<path d="M153.1 314.2L156.6 320.5H149.6Z" fill="#ff0000"/>
<path d="M163.3 283.4L166.8 289.7H159.8Z" fill="#ff0000"/>
<path d="M183.7 300.4L187.2 306.7H180.2Z" fill="#ff0000"/>
<path d="M194.0 337.3L197.5 343.6H190.5Z" fill="#ff0000"/>
<path d="M204.2 382.5L207.7 388.8H200.7Z" fill="#ff0000"/>
<path d="M214.4 390.8L217.9 397.1H210.9Z" fill="#ff0000"/>
<path d="M224.6 352.4L228.1 358.7H221.1Z" fill="#ff0000"/>
<path d="M234.8 382.5L238.3 388.8H231.3Z" fill="#ff0000"/>
<path d="M245.0 363.2L248.5 369.5H241.5Z" fill="#ff0000"/>
<path d="M255.2 286.4L258.7 292.7H251.7Z" fill="#ff0000"/>
<path d="M265.4 256.3L268.9 262.6H261.9Z" fill="#ff0000"/>
<path d="M275.6 278.3L279.1 284.6H272.1Z" fill="#ff0000"/>
<path d="M285.8 318.5L289.3 324.8H282.3Z" fill="#ff0000"/>
<path d="M296.0 297.2L299.5 303.5H292.5Z" fill="#ff0000"/>
<path d="M306.2 315.5L309.7 321.8H302.7Z" fill="#ff0000"/>
<path d="M316.4 340.3L319.9 346.6H312.9Z" fill="#ff0000"/>
<path d="M326.7 298.4L330.2 304.7H323.2Z" fill="#ff0000"/>
<path d="M336.9 348.1L340.4 354.4H333.4Z" fill="#ff0000"/>
<path d="M347.1 288.4L350.6 294.7H343.6Z" fill="#ff0000"/>
<path d="M357.3 324.3L360.8 330.6H353.8Z" fill="#ff0000"/>
<path d="M367.5 346.1L371.0 352.4H364.0Z" fill="#ff0000"/>
<path d="M377.7 316.5L381.2 322.8H374.2Z" fill="#ff0000"/>
<path d="M387.9 298.4L391.4 304.7H384.4Z" fill="#ff0000"/>
<path d="M398.1 276.3L401.6 282.6H394.6Z" fill="#ff0000"/>
<path d="M408.3 314.2L411.8 320.5H404.8Z" fill="#ff0000"/>
<path d="M418.5 299.7L422.0 306.0H415.0Z" fill="#ff0000"/>
<path d="M428.7 303.4L432.2 309.7H425.2Z" fill="#ff0000"/>
<path d="M438.9 296.4L442.4 302.7H435.4Z" fill="#ff0000"/>
<path d="M449.2 318.5L452.7 324.8H445.7Z" fill="#ff0000"/>
<path d="M459.4 297.2L462.9 303.5H455.9Z" fill="#ff0000"/>
<path d="M469.6 329.8L473.1 336.1H466.1Z" fill="#ff0000"/>
<path d="M479.8 309.0L483.3 315.3H476.3Z" fill="#ff0000"/>
<path d="M490.0 309.0L493.5 315.3H486.5Z" fill="#ff0000"/>
<path d="M500.2 309.7L503.7 316.0H496.7Z" fill="#ff0000"/>
<path d="M510.4 302.7L513.9 309.0H506.9Z" fill="#ff0000"/>
<path d="M520.6 302.7L524.1 309.0H517.1Z" fill="#ff0000"/>
<path d="M530.8 315.5L534.3 321.8H527.3Z" fill="#ff0000"/>
<path d="M541.0 312.7L544.5 319.0H537.5Z" fill="#ff0000"/>
<path d="M551.2 316.7L554.7 323.0H547.7Z" fill="#ff0000"/>
<path d="M561.4 327.3L564.9 333.6H557.9Z" fill="#ff0000"/>
<path d="M571.6 321.5L575.1 327.8H568.1Z" fill="#ff0000"/>
<path d="M581.9 331.6L585.4 337.9H578.4Z" fill="#ff0000"/>
<path d="M592.1 323.5L595.6 329.8H588.6Z" fill="#ff0000"/>
<path d="M602.3 341.6L605.8 347.9H598.8Z" fill="#ff0000"/>
<path d="M612.5 338.6L616.0 344.9H609.0Z" fill="#ff0000"/>
<path d="M622.7 344.1L626.2 350.4H619.2Z" fill="#ff0000"/>
<path d="M632.9 333.6L636.4 339.9H629.4Z" fill="#ff0000"/>
<path d="M643.1 348.6L646.6 354.9H639.6Z" fill="#ff0000"/>
<path d="M653.3 346.6L656.8 352.9H649.8Z" fill="#ff0000"/>
<path d="M663.5 346.6L667.0 352.9H660.0Z" fill="#ff0000"/>
<path d="M673.7 345.6L677.2 351.9H670.2Z" fill="#ff0000"/>
<path d="M683.9 353.6L687.4 359.9H680.4Z" fill="#ff0000"/>
<path d="M694.1 356.7L697.6 363.0H690.6Z" fill="#ff0000"/>
<path d="M704.4 349.1L707.9 355.4H700.9Z" fill="#ff0000"/>
<path d="M714.6 353.6L718.1 359.9H711.1Z" fill="#ff0000"/>
<path d="M724.8 352.4L728.3 358.7H721.3Z" fill="#ff0000"/>
<path d="M735.0 352.4L738.5 358.7H731.5Z" fill="#ff0000"/>
<path d="M745.2 351.9L748.7 358.2H741.7Z" fill="#ff0000"/>
<path d="M755.4 380.5L758.9 386.8H751.9Z" fill="#ff0000"/>
<path d="M765.6 344.4L769.1 350.7H762.1Z" fill="#ff0000"/>
<path d="M775.8 330.3L779.3 336.6H772.3Z" fill="#ff0000"/>
<path d="M786.0 325.5L789.5 331.8H782.5Z" fill="#ff0000"/>
<path d="M796.2 314.2L799.7 320.5H792.7Z" fill="#ff0000"/>
<path d="M806.4 311.7L809.9 318.0H802.9Z" fill="#ff0000"/>
<path d="M816.6 308.5L820.1 314.8H813.1Z" fill="#ff0000"/>
<path d="M826.8 295.9L830.3 302.2H823.3Z" fill="#ff0000"/>
<path d="M837.1 287.9L840.6 294.2H833.6Z" fill="#ff0000"/>
<path d="M847.3 283.9L850.8 290.2H843.8Z" fill="#ff0000"/>
<path d="M857.5 277.6L861.0 283.9H854.0Z" fill="#ff0000"/>
<path d="M867.7 282.1L871.2 288.4H864.2Z" fill="#ff0000"/>
<path d="M877.9 280.9L881.4 287.2H874.4Z" fill="#ff0000"/>
<path d="M888.1 274.6L891.6 280.9H884.6Z" fill="#ff0000"/>
<path d="M898.3 284.6L901.8 290.9H894.8Z" fill="#ff0000"/>
<path d="M908.5 309.7L912.0 316.0H905.0Z" fill="#ff0000"/>
<path d="M918.7 304.7L922.2 311.0H915.2Z" fill="#ff0000"/>
<path d="M928.9 291.4L932.4 297.7H925.4Z" fill="#ff0000"/>
<path d="M939.1 364.4L942.6 370.7H935.6Z" fill="#ff0000"/>
<path d="M949.3 340.3L952.8 346.6H945.8Z" fill="#ff0000"/>
<path d="M959.6 416.4L963.1 422.7H956.1Z" fill="#ff0000"/>
<path d="M969.8 398.1L973.3 404.4H966.3Z" fill="#ff0000"/>
<path d="M980.0 297.2L983.5 303.5H976.5Z" fill="#ff0000"/>
<rect x="599" y="105" width="87" height="148" fill="#000"/>
<rect x="593.5" y="99.5" width="89" height="150" fill="#fff" stroke="#000" stroke-width="1"/>
<text x="604" y="117.0" font-size="19.3">Electron</text>
<text x="604" y="142.0" font-size="19.3">Muon</text>
<text x="604" y="167.0" font-size="19.3">Pion</text>
<text x="604" y="191.9" font-size="19.3">Kaon</text>
<text x="604" y="216.9" font-size="19.3">Proton</text>
<text x="604" y="241.9" font-size="19.3">Ghost</text>
<path d="M598 109L601.2 114.8H594.8Z" fill="#ff0000"/>
<circle cx="598.5" cy="136.5" r="3.8" fill="#0000ff"/>
<path d="M594 157H601.2L597.6 164.2Z" fill="#009900"/>
<rect x="594" y="182" width="6" height="6" fill="#990099"/>
<path d="M596.1 207h2.8v2.2h2.2v2.6h-2.2v2.2h-2.8v-2.2h-2.2v-2.6h2.2Z" fill="#66cccc"/>
<path d="M597.6 232.8L600.2 236L597.6 239.2L595 236Z" fill="#000000"/>

</svg></body></html>
